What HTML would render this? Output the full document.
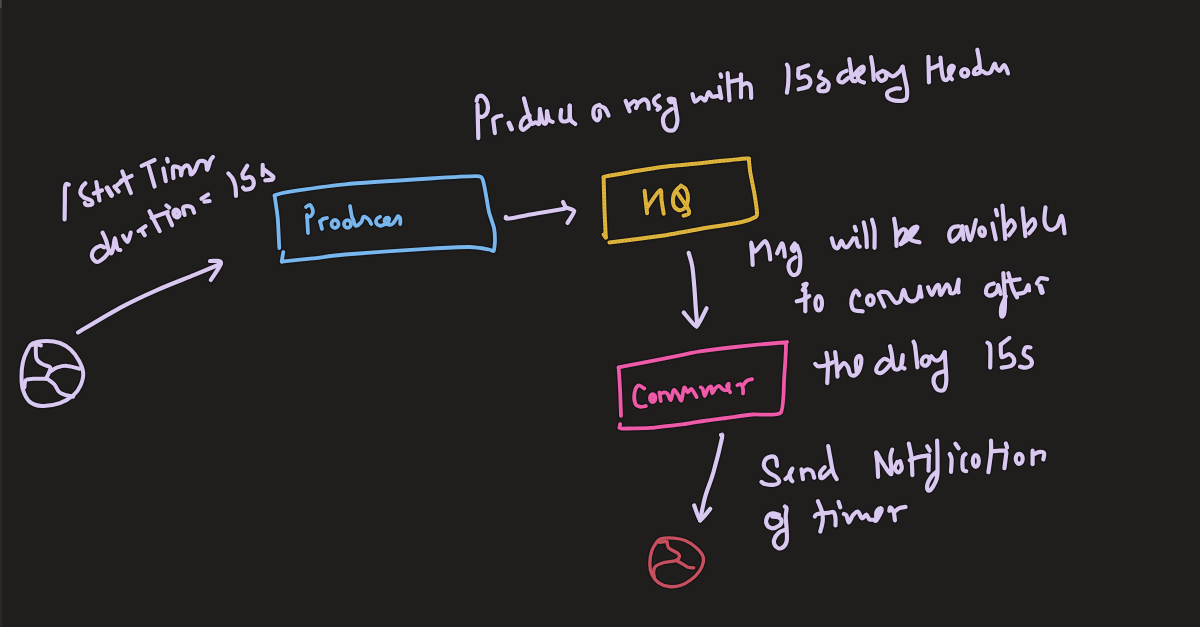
<!DOCTYPE html>
<html><head><meta charset="utf-8"><style>
html,body{margin:0;padding:0;background:#1f1e1c;width:1200px;height:627px;overflow:hidden;font-family:"Liberation Sans",sans-serif;}
svg{position:absolute;left:0;top:0;display:block}
</style></head><body>
<svg width="1200" height="627" viewBox="0 0 1200 627" role="img" aria-label="Start Timer duration = 15s; Producer; Produce a msg with 15s delay header; MQ; Consumer; Msg will be available to consume after the delay 15s; Send Notification of timer">
<title>Delayed timer notification flow: Producer to MQ to Consumer</title>
<rect x="0" y="0" width="1200" height="627" fill="#1f1e1c"/>
<rect x="0" y="0" width="2" height="627" fill="#2a2927"/>
<rect x="0" y="0" width="1.6" height="8" fill="#4e4d4b"/>
<g fill="none" stroke-linecap="round" stroke-linejoin="round" stroke="#100d14" opacity="0.55">
<path d="M32.4 343.6C35.6 341.9 41.6 341.0 46.2 340.9C50.8 340.8 55.8 341.5 59.9 343.0C64.0 344.5 67.6 346.9 70.8 349.8C74.0 352.8 76.9 356.8 79.0 360.7C81.1 364.6 83.0 368.9 83.2 373.0C83.5 377.1 82.1 381.8 80.5 385.5C78.9 389.2 77.0 392.1 73.6 395.0C70.2 397.9 65.1 401.4 59.9 403.2C54.6 405.0 47.1 406.2 42.1 406.0C37.1 405.8 33.0 404.6 29.8 401.9C26.6 399.2 24.3 393.9 22.9 389.6C21.5 385.3 21.5 380.5 21.5 375.9C21.5 371.3 22.0 366.3 22.9 362.2C23.8 358.1 25.4 354.3 27.0 351.2C28.6 348.1 29.2 345.3 32.4 343.6Z" stroke-width="6.6"/>
<path d="M31.5 345.0C32.2 344.8 34.2 343.9 35.8 344.0C37.4 344.1 40.0 345.2 40.9 345.5" stroke-width="6.6"/>
<path d="M35.8 345.8C35.9 347.9 35.4 355.6 36.6 358.7C37.8 361.8 40.7 363.0 43.0 364.4C45.3 365.8 49.2 365.9 50.2 367.3C51.2 368.7 49.5 371.1 48.8 373.0C48.1 374.9 46.4 377.8 45.9 378.8" stroke-width="6.6"/>
<path d="M24.4 387.4C24.6 386.2 24.4 381.6 25.8 380.2C27.2 378.8 29.6 379.0 33.0 378.8C36.4 378.6 43.8 378.8 45.9 378.8" stroke-width="6.6"/>
<path d="M50.2 371.6C51.4 370.9 54.5 368.2 57.4 367.3C60.3 366.4 63.7 365.6 67.4 365.9C71.1 366.1 77.5 368.3 79.5 368.8" stroke-width="6.6"/>
<path d="M47.3 378.8C48.5 379.8 52.6 382.4 54.5 384.5C56.4 386.6 57.1 390.0 58.8 391.7C60.5 393.4 62.1 393.8 64.5 394.6C66.9 395.4 71.8 396.4 73.2 396.7" stroke-width="6.6"/>
<path d="M78.0 332.5C85.0 328.4 106.8 314.9 120.0 307.8C133.2 300.7 145.0 295.3 157.5 289.8C170.0 284.3 184.5 278.9 195.0 274.6C205.5 270.3 216.2 265.8 220.5 264.0" stroke-width="6.8"/>
<path d="M210.0 261.0C211.8 261.3 220.9 259.6 221.0 262.8C221.1 265.9 212.5 277.1 210.8 280.0" stroke-width="6.8"/>
<path d="M68.8 184.6C68.4 184.5 66.9 183.4 66.3 183.9C65.7 184.4 65.2 184.3 65.0 187.8C64.8 191.3 64.9 199.7 64.8 205.0C64.7 210.3 64.6 217.1 64.6 219.5" stroke-width="6.8"/>
<path d="M85.4 183.3C84.9 183.8 83.2 184.9 82.3 186.5C81.4 188.1 80.1 191.1 80.3 192.9C80.5 194.7 81.7 196.0 83.5 197.3C85.3 198.6 89.8 199.3 91.2 200.5C92.6 201.7 92.7 203.7 91.8 204.4C90.9 205.2 87.3 205.2 86.1 205.0C84.9 204.8 85.0 203.3 84.8 203.0" stroke-width="6.8"/>
<path d="M96.3 182.0L99.5 200.5" stroke-width="6.8"/>
<path d="M93.7 193.5L102.0 190.3" stroke-width="6.8"/>
<path d="M107.2 188.0L111.5 195.2" stroke-width="7.8"/>
<path d="M114.4 186.6L118.7 191.6" stroke-width="6.8"/>
<path d="M117.2 185.2L121.5 181.6" stroke-width="6.8"/>
<path d="M122.3 171.5L130.9 193.0" stroke-width="6.8"/>
<path d="M120.8 180.8L131.6 175.8" stroke-width="6.8"/>
<path d="M141.6 165.8L154.6 160.0" stroke-width="6.8"/>
<path d="M148.8 166.5L154.6 186.6" stroke-width="6.8"/>
<path d="M167.1 158.9L167.8 161.5" stroke-width="6.8"/>
<path d="M163.3 168.5L165.8 181.2" stroke-width="6.8"/>
<path d="M173.5 178.1C173.4 176.4 172.5 169.8 172.9 167.9C173.3 166.0 174.7 166.4 176.0 166.6C177.3 166.8 179.7 167.6 180.5 169.1C181.3 170.6 180.8 175.5 181.1 175.5C181.4 175.5 181.4 170.8 182.4 169.1C183.4 167.4 185.6 165.3 186.9 165.3C188.2 165.3 189.5 167.6 190.1 169.1C190.7 170.6 190.0 173.9 190.7 174.2C191.4 174.5 193.2 173.0 194.5 171.0C195.8 169.0 197.1 163.8 198.4 162.1C199.7 160.4 200.9 160.7 202.2 160.8C203.5 160.9 205.2 161.3 206.0 162.8C206.8 164.3 206.6 170.2 207.3 169.8C208.1 169.4 209.6 162.3 210.5 160.2C211.4 158.1 212.6 157.5 213.0 157.0" stroke-width="6.8"/>
<path d="M228.3 173.4C229.0 174.2 231.3 176.3 232.5 178.4C233.7 180.5 234.7 183.2 235.3 186.1C235.9 189.0 235.9 194.3 236.0 195.9" stroke-width="6.8"/>
<path d="M243.1 172.7L247.3 165.7" stroke-width="6.8"/>
<path d="M242.4 174.1C242.6 174.8 242.5 177.9 243.8 178.4C245.1 178.9 248.5 176.5 250.1 177.0C251.7 177.5 253.2 179.4 253.6 181.2C253.9 182.9 253.6 186.1 252.2 187.5C250.8 188.9 246.7 189.6 245.2 189.6C243.7 189.6 243.4 187.8 243.1 187.5" stroke-width="6.8"/>
<path d="M262.7 164.9L262.7 175.2" stroke-width="6.8"/>
<path d="M263.6 169.2C264.6 169.9 272.2 175.5 273.1 176.5C274.0 177.5 273.0 179.1 272.2 179.5C271.4 179.9 266.0 180.3 265.3 180.4" stroke-width="6.8"/>
<path d="M201.5 198.8L208.1 194.4" stroke-width="6.8"/>
<path d="M204.4 201.7L209.6 201.0" stroke-width="6.8"/>
<path d="M104.1 247.3C103.4 247.1 101.7 245.4 99.9 245.9C98.2 246.4 94.9 248.2 93.6 250.1C92.3 252.0 91.6 255.1 92.2 257.1C92.8 259.1 95.1 261.9 97.1 262.0C99.1 262.1 102.1 259.6 104.1 257.8C106.1 256.1 108.3 252.6 109.1 251.5" stroke-width="6.8"/>
<path d="M102.6 232.6C103.2 234.0 105.3 238.2 106.2 240.8C107.1 243.4 107.6 246.5 108.2 248.4C108.8 250.3 109.2 251.8 109.8 252.5C110.4 253.2 111.2 253.9 111.8 252.8C112.4 251.7 113.1 248.4 113.6 246.0C114.1 243.6 114.4 238.2 114.9 238.2C115.4 238.2 116.0 244.1 116.5 246.0C117.0 247.9 117.4 248.8 118.0 249.5C118.6 250.2 119.9 249.9 120.3 250.0" stroke-width="6.8"/>
<path d="M123.0 235.7C123.8 236.7 126.3 242.3 127.6 241.8C128.9 241.3 130.2 234.1 130.7 232.6" stroke-width="6.8"/>
<path d="M138.5 231.1L145.5 226.2" stroke-width="6.8"/>
<path d="M141.3 229.7L144.8 235.3" stroke-width="6.8"/>
<path d="M149.4 211.3L159.7 231.1" stroke-width="6.8"/>
<path d="M151.6 217.9L167.7 212.0" stroke-width="6.8"/>
<path d="M166.3 205.4L169.2 207.6" stroke-width="6.8"/>
<path d="M167.0 213.5L172.1 225.2" stroke-width="6.8"/>
<path d="M184.6 215.0C184.4 213.8 182.7 209.1 183.2 207.6C183.7 206.1 186.1 206.1 187.6 206.1C189.1 206.1 190.9 206.5 192.0 207.6C193.1 208.7 193.8 211.8 194.2 212.7" stroke-width="6.8"/>
<path d="M274.6 195.5C275.7 195.2 278.7 193.4 285.7 192.3C292.7 191.2 330.6 185.7 345.0 184.3C359.4 182.9 416.9 179.3 430.0 178.5C443.1 177.7 470.9 176.1 476.2 176.2C481.5 176.3 481.6 177.4 482.6 179.3C483.6 181.2 485.4 191.7 486.0 195.0C486.6 198.3 488.2 208.7 489.0 212.0C489.8 215.3 493.4 225.2 494.0 228.0C494.6 230.8 495.0 237.7 495.0 240.0C495.0 242.3 494.3 250.1 493.7 251.0C493.1 251.9 491.4 249.9 489.0 249.5C486.6 249.1 475.7 247.1 469.8 247.0C463.9 246.9 442.5 247.9 430.0 248.7C417.5 249.4 356.7 253.5 345.0 254.5C333.3 255.5 319.1 257.7 312.8 258.4C306.5 259.1 284.8 261.3 281.7 261.6" stroke-width="6.4"/>
<path d="M274.6 195.5C274.9 197.7 277.2 212.6 277.7 217.8C278.2 223.1 279.1 245.0 279.3 248.0" stroke-width="6.4"/>
<path d="M283.3 252.0L281.7 261.6" stroke-width="6.4"/>
<path d="M307.0 215.0L308.0 233.0" stroke-width="6.4"/>
<path d="M306.0 207.0C306.7 206.7 308.8 204.3 310.0 205.0C311.2 205.7 312.8 209.2 313.0 211.0C313.2 212.8 312.0 215.0 311.0 216.0C310.0 217.0 307.7 216.8 307.0 217.0" stroke-width="6.4"/>
<path d="M320.0 221.0L322.0 229.0" stroke-width="6.4"/>
<path d="M320.0 222.0C320.5 221.5 321.8 219.7 323.0 219.0C324.2 218.3 326.3 218.2 327.0 218.0" stroke-width="6.4"/>
<path d="M350.0 206.0C350.3 207.8 351.4 214.8 352.0 217.0C352.6 219.2 352.7 218.1 353.3 219.5C353.9 220.9 354.3 225.2 355.6 225.7C356.9 226.2 359.9 223.8 361.2 222.3C362.5 220.8 362.5 217.4 363.4 216.7C364.3 216.0 365.7 217.2 366.7 217.9C367.7 218.6 368.8 219.6 369.5 220.6C370.2 221.6 370.9 223.4 371.2 224.0" stroke-width="6.4"/>
<path d="M380.1 216.7C379.6 217.1 377.5 218.0 376.8 219.0C376.1 220.0 375.7 221.8 376.2 222.9C376.7 224.0 378.3 225.4 379.6 225.7C380.9 226.0 382.6 225.2 384.0 224.6C385.4 224.0 387.1 223.3 388.0 222.3C388.9 221.3 389.4 219.1 389.1 218.4C388.8 217.7 387.1 217.4 386.3 217.9C385.6 218.4 384.3 220.1 384.6 221.2C384.9 222.3 386.7 224.1 388.0 224.6C389.3 225.1 391.1 224.8 392.4 224.0C393.7 223.2 394.9 220.8 395.8 219.5C396.7 218.2 397.3 216.4 398.0 216.2C398.7 216.0 399.8 217.1 400.2 218.4C400.6 219.7 400.2 223.1 400.2 224.0" stroke-width="6.4"/>
<path d="M506.0 217.0C506.5 217.2 503.8 219.1 509.0 218.5C514.2 217.9 528.2 214.9 537.5 213.3C546.8 211.7 560.0 209.6 564.5 208.8" stroke-width="6.8"/>
<path d="M563.0 202.0C563.3 202.5 564.9 206.4 566.0 207.3C567.1 208.2 574.1 209.4 574.3 211.0C574.4 212.6 568.2 221.8 567.5 223.0" stroke-width="6.8"/>
<path d="M603.6 177.2C604.1 177.1 603.1 176.8 608.7 175.8C614.3 174.8 650.9 168.4 660.0 167.2C669.1 165.9 691.4 164.2 700.0 163.3C708.6 162.4 741.2 158.9 746.1 158.6C751.0 158.3 748.4 158.7 748.8 160.0C749.2 161.3 749.7 168.8 750.2 172.0C750.7 175.2 753.5 188.4 754.2 192.5C754.9 196.6 756.9 210.4 757.0 212.8C757.1 215.2 757.2 216.0 755.6 216.9C754.0 217.8 746.3 221.1 740.7 222.3C735.1 223.5 708.1 227.6 700.0 229.0C691.9 230.4 669.1 234.7 660.0 236.0C650.9 237.3 614.5 241.8 609.4 242.5" stroke-width="6.6"/>
<path d="M603.6 177.2C603.7 180.5 604.3 204.0 604.5 210.0C604.7 216.0 605.7 234.8 605.8 237.5" stroke-width="6.6"/>
<path d="M603.6 234.6L605.8 237.5" stroke-width="6.6"/>
<path d="M644.6 190.8L647.1 213.2" stroke-width="6.6"/>
<path d="M647.8 206.8C649.8 204.0 657.6 191.3 659.9 190.2C662.2 189.1 660.9 196.1 661.5 200.0C662.1 203.9 663.3 211.5 663.7 213.8" stroke-width="6.6"/>
<path d="M681.0 185.7C679.9 186.9 675.8 189.7 674.5 192.8C673.2 195.9 672.6 201.3 673.3 204.2C673.9 207.1 676.5 209.4 678.4 210.0C680.3 210.6 683.1 209.8 684.7 208.0C686.3 206.2 687.8 202.1 688.0 199.0C688.2 195.9 687.2 191.8 686.0 189.6C684.8 187.4 681.8 186.3 681.0 185.7" stroke-width="6.6"/>
<path d="M676.5 191.5C678.4 194.4 686.0 205.0 688.0 208.7C690.0 212.4 689.4 212.6 688.6 213.8C687.9 215.0 684.4 215.4 683.5 215.7" stroke-width="6.6"/>
<path d="M477.5 104.9L478.3 138.1" stroke-width="6.8"/>
<path d="M476.6 100.8C476.9 100.1 477.2 97.3 478.3 96.6C479.4 95.9 481.8 95.5 483.3 96.6C484.8 97.7 486.7 100.8 487.4 103.3C488.1 105.8 488.1 109.4 487.4 111.6C486.7 113.8 484.7 115.7 483.3 116.5C481.9 117.3 479.8 116.5 479.1 116.5" stroke-width="6.8"/>
<path d="M493.2 119.9L494.9 133.1" stroke-width="6.8"/>
<path d="M493.5 119.0C494.1 118.6 496.1 117.0 497.4 116.5C498.7 116.0 500.8 115.8 501.5 115.7" stroke-width="6.8"/>
<path d="M509.0 123.2L511.5 129.0" stroke-width="7.6"/>
<path d="M529.7 115.7C528.7 116.1 525.4 116.5 523.9 118.2C522.4 119.9 520.7 123.8 520.6 125.7C520.5 127.6 521.6 130.0 523.1 129.8C524.6 129.7 528.6 125.6 529.7 124.8" stroke-width="6.8"/>
<path d="M523.9 98.3C524.5 100.4 526.0 106.5 527.2 110.7C528.5 114.9 530.0 121.3 531.4 123.2C532.8 125.1 534.2 122.3 535.5 122.3C536.8 122.3 538.5 125.5 539.2 123.3C539.9 121.1 539.8 111.5 539.9 109.2" stroke-width="6.8"/>
<path d="M539.9 109.2C540.4 111.3 541.6 119.7 542.7 121.9C543.8 124.1 545.6 124.4 546.3 122.6C547.0 120.8 546.9 113.2 547.0 111.3" stroke-width="6.8"/>
<path d="M547.0 111.3C547.4 112.7 548.1 118.0 549.1 119.8C550.1 121.6 552.1 121.6 552.7 121.9" stroke-width="6.8"/>
<path d="M561.2 109.9C561.1 111.2 560.3 115.8 560.5 117.7C560.7 119.6 561.3 120.7 562.6 121.2C563.9 121.7 567.0 121.3 568.2 120.5C569.4 119.7 569.5 118.7 569.7 116.2C570.0 113.7 569.7 107.4 569.7 105.6" stroke-width="6.8"/>
<path d="M569.7 105.6C569.8 107.8 569.5 116.0 570.4 119.1C571.3 122.2 574.5 123.2 575.3 124.0" stroke-width="6.8"/>
<path d="M599.4 104.9C598.6 105.4 595.3 105.8 594.4 107.7C593.5 109.6 593.2 114.1 593.7 116.2C594.2 118.3 596.2 120.5 597.3 120.5C598.4 120.5 599.8 117.9 600.1 116.2C600.5 114.5 599.5 111.5 599.4 110.6" stroke-width="6.8"/>
<path d="M600.8 106.3C601.5 106.7 603.8 107.0 605.1 108.5C606.4 110.0 608.0 114.3 608.6 115.5" stroke-width="6.8"/>
<path d="M625.6 101.0L629.6 111.3" stroke-width="6.8"/>
<path d="M629.6 104.9C630.4 104.2 633.1 101.1 634.4 101.0C635.7 100.9 637.2 102.9 637.5 104.1C637.8 105.3 636.2 107.4 636.0 108.1" stroke-width="6.8"/>
<path d="M639.1 102.5C639.9 102.0 642.4 99.4 643.9 99.4C645.4 99.4 647.1 100.9 647.9 102.5C648.7 104.1 648.6 107.8 648.7 108.9" stroke-width="6.8"/>
<path d="M659.1 95.4C658.3 96.1 655.0 98.0 654.3 99.4C653.6 100.9 654.2 102.8 655.1 104.1C656.0 105.4 659.5 106.4 659.9 107.3C660.3 108.2 657.9 109.3 657.5 109.7" stroke-width="6.8"/>
<path d="M671.8 98.6C671.3 98.7 668.7 98.8 668.6 99.4C668.5 100.1 670.1 102.5 671.0 102.5C671.9 102.5 673.7 99.9 674.2 99.4" stroke-width="6.8"/>
<path d="M674.2 99.4C674.5 101.0 675.3 105.3 675.8 108.9C676.3 112.5 677.7 117.4 677.4 120.9C677.1 124.4 675.9 128.2 674.2 129.7C672.5 131.2 668.9 130.9 667.0 129.7C665.1 128.5 663.5 125.0 663.1 122.5C662.7 120.0 663.2 116.8 664.7 114.5C666.2 112.2 670.6 109.8 671.8 108.9" stroke-width="6.8"/>
<path d="M692.5 94.1C692.9 95.4 693.6 101.2 695.0 101.7C696.4 102.2 699.1 97.5 700.8 97.3C702.5 97.1 703.9 101.3 705.2 100.5C706.5 99.7 707.2 92.9 708.4 92.2C709.6 91.5 710.7 96.0 712.3 96.6C713.9 97.2 716.5 95.8 718.0 96.0C719.5 96.2 720.7 97.6 721.2 97.9" stroke-width="6.8"/>
<path d="M719.3 87.1L721.2 97.9" stroke-width="6.8"/>
<path d="M720.5 74.3L721.2 76.8" stroke-width="6.8"/>
<path d="M727.6 73.0L729.5 100.5" stroke-width="6.8"/>
<path d="M728.8 82.0L741.0 79.4" stroke-width="6.8"/>
<path d="M741.0 74.3L741.0 97.3" stroke-width="6.8"/>
<path d="M742.2 85.1C743.0 84.8 745.3 83.0 746.7 83.2C748.1 83.4 749.8 84.0 750.5 86.4C751.2 88.9 751.1 96.0 751.2 97.9" stroke-width="6.8"/>
<path d="M786.9 64.6C787.1 65.3 788.1 65.7 788.3 68.7C788.5 71.7 788.5 78.4 788.3 82.4C788.1 86.4 787.1 91.0 786.9 92.7" stroke-width="6.8"/>
<path d="M798.6 68.7L808.2 65.3" stroke-width="6.8"/>
<path d="M798.6 68.7C798.6 70.2 797.5 76.3 798.6 77.6C799.7 78.8 803.5 75.7 805.4 76.2C807.3 76.7 809.7 78.7 810.2 80.4C810.7 82.1 810.1 85.0 808.2 86.5C806.3 88.0 800.2 88.8 798.6 89.3" stroke-width="6.8"/>
<path d="M821.2 71.4C820.9 72.3 818.5 75.5 819.1 76.9C819.7 78.3 823.0 78.6 824.6 79.7C826.2 80.8 828.4 82.0 828.7 83.8C829.1 85.6 828.3 89.5 826.7 90.6C825.1 91.7 820.4 91.3 819.1 90.6C817.8 89.9 818.4 87.6 819.1 86.5C819.8 85.4 822.5 84.2 823.2 83.8" stroke-width="6.8"/>
<path d="M846.5 70.8C845.6 71.2 842.5 72.0 841.1 73.5C839.7 75.0 838.1 78.2 838.3 79.7C838.5 81.2 840.7 82.8 842.4 82.4C844.1 82.1 847.6 78.4 848.6 77.6" stroke-width="6.8"/>
<path d="M849.3 59.1C849.5 60.7 850.2 65.3 850.7 68.7C851.2 72.1 851.2 77.7 852.0 79.7C852.8 81.8 854.9 80.8 855.5 81.0" stroke-width="6.8"/>
<path d="M853.5 75.4C854.4 74.4 857.2 70.8 858.8 69.3C860.4 67.8 862.5 66.4 863.2 66.7C863.9 67.0 864.1 69.4 863.2 71.0C862.3 72.6 858.5 74.7 857.9 76.3C857.3 77.9 858.6 79.7 859.6 80.7C860.6 81.7 863.3 82.2 864.0 82.5" stroke-width="6.8"/>
<path d="M871.1 57.0C871.4 58.8 872.4 63.7 872.8 67.5C873.2 71.3 873.6 77.8 873.7 79.8" stroke-width="6.8"/>
<path d="M882.5 71.0C881.6 71.6 877.5 73.0 877.2 74.6C876.9 76.2 879.2 80.1 880.7 80.7C882.2 81.3 885.3 79.5 886.0 78.0C886.7 76.5 885.7 73.1 885.1 71.9C884.5 70.7 882.9 71.2 882.5 71.0" stroke-width="6.8"/>
<path d="M886.8 72.8C887.8 73.4 891.0 76.4 893.0 76.3C895.0 76.2 897.5 73.5 899.1 71.9C900.7 70.3 902.0 67.6 902.6 66.7" stroke-width="6.8"/>
<path d="M902.6 66.7C902.9 68.3 903.7 72.5 904.4 76.3C905.1 80.1 906.7 85.7 907.0 89.5C907.3 93.3 907.6 97.2 906.1 99.1C904.6 101.0 901.1 101.1 898.2 100.9C895.3 100.8 890.4 99.7 888.6 98.2C886.9 96.7 886.5 93.7 887.7 92.1C888.9 90.5 893.6 89.2 895.6 88.6C897.6 88.0 899.3 88.6 900.0 88.6" stroke-width="6.8"/>
<path d="M928.4 56.8L929.0 82.4" stroke-width="6.8"/>
<path d="M929.7 69.0C930.6 68.7 933.3 67.7 934.8 67.0C936.3 66.3 938.0 65.4 938.6 65.1" stroke-width="6.8"/>
<path d="M940.5 57.5C940.7 59.8 941.3 67.9 941.8 71.5C942.3 75.1 942.8 77.9 943.7 79.2C944.7 80.5 946.1 80.5 947.5 79.2C948.9 77.9 950.9 73.5 952.0 71.5C953.1 69.5 954.0 68.0 953.9 67.0C953.8 66.0 952.1 65.3 951.3 65.8C950.4 66.3 949.0 68.4 948.8 70.2C948.6 72.0 949.5 75.1 950.0 76.6C950.5 78.1 951.7 78.8 952.0 79.2" stroke-width="6.8"/>
<path d="M977.3 49.7C977.6 51.4 978.8 56.9 979.2 60.0C979.6 63.1 979.8 66.9 979.9 68.3" stroke-width="6.8"/>
<path d="M978.6 67.0C978.0 67.4 975.5 68.3 974.8 69.5C974.0 70.7 973.5 73.3 974.1 74.0C974.7 74.7 977.3 73.9 978.6 73.4C979.9 72.9 980.5 70.8 981.8 70.8C983.1 70.8 984.7 73.2 986.2 73.4C987.7 73.6 989.3 73.7 990.7 72.1C992.1 70.5 993.5 64.4 994.5 63.8C995.5 63.2 995.6 67.1 996.5 68.3C997.4 69.5 998.4 71.3 999.7 70.8C1001.0 70.3 1002.9 65.3 1004.1 65.1C1005.3 64.9 1006.1 68.1 1006.7 69.5C1007.4 70.9 1007.8 72.8 1008.0 73.4" stroke-width="6.8"/>
<path d="M688.7 252.9C689.3 255.2 691.3 260.6 692.3 266.5C693.2 272.4 693.8 280.8 694.4 288.0C695.0 295.2 695.4 303.4 695.9 309.6C696.4 315.8 697.1 322.8 697.3 325.4" stroke-width="6.8"/>
<path d="M683.7 312.5C684.6 313.5 695.1 327.1 696.6 326.8C698.1 326.5 705.9 309.4 706.6 308.2" stroke-width="6.8"/>
<path d="M618.6 367.3C620.3 367.0 628.7 365.5 635.3 364.2C641.9 362.9 678.5 355.7 685.0 354.4C691.5 353.1 695.0 352.0 700.0 351.3C705.0 350.6 726.6 347.9 735.0 347.0C743.4 346.1 779.1 342.8 784.2 342.5C789.3 342.2 786.0 340.8 786.0 344.3C786.0 347.8 784.7 370.8 784.2 377.6C783.7 384.4 783.9 409.0 780.7 412.7C777.5 416.4 758.0 414.0 752.6 414.5C747.2 415.0 731.6 417.3 726.3 418.0C721.0 418.7 704.1 420.9 700.0 421.5C695.9 422.1 690.0 423.4 685.0 424.0C680.0 424.6 656.8 427.4 650.5 427.9C644.2 428.4 624.6 428.5 621.7 428.6" stroke-width="6.4"/>
<path d="M618.6 367.3C618.8 369.9 620.0 388.1 620.2 393.0C620.4 397.9 620.9 413.5 621.0 415.8" stroke-width="6.4"/>
<path d="M620.2 424.0L619.4 427.9" stroke-width="6.4"/>
<path d="M644.4 388.5C643.4 388.0 639.9 384.8 638.3 385.5C636.6 386.2 635.0 390.0 634.5 393.0C634.0 396.0 634.4 401.3 635.3 403.6C636.2 405.9 638.0 406.3 639.8 406.7C641.6 407.1 644.9 406.1 645.9 406.0" stroke-width="6.4"/>
<path d="M659.4 392.4L660.8 401.0" stroke-width="6.4"/>
<path d="M660.5 394.0C661.1 393.7 662.9 392.4 664.1 392.4C665.3 392.4 666.4 392.5 667.5 393.8C668.6 395.1 669.8 400.6 670.8 400.0C671.8 399.4 672.5 390.9 673.7 390.0C674.9 389.1 676.7 392.9 678.0 394.7C679.3 396.4 680.4 401.7 681.4 400.5C682.4 399.3 683.2 389.0 684.2 387.6C685.2 386.2 686.4 392.2 687.6 392.4C688.8 392.6 689.9 388.2 691.4 389.0C692.9 389.8 695.8 395.8 696.7 397.1" stroke-width="6.4"/>
<path d="M700.6 387.3C701.0 387.6 702.0 387.4 702.7 388.8C703.4 390.2 703.9 396.0 704.7 396.0C705.6 396.0 706.7 390.3 707.8 388.8C708.9 387.3 710.5 386.0 711.3 386.8C712.0 387.6 711.6 393.1 712.3 393.4C713.0 393.6 714.3 389.6 715.4 388.3C716.5 387.0 717.9 385.7 719.0 385.8C720.1 385.9 721.0 388.0 722.0 388.8C723.0 389.6 724.1 390.4 725.1 390.4C726.1 390.4 727.6 389.9 728.2 388.8C728.8 387.7 728.9 384.2 728.7 383.7C728.5 383.2 727.1 385.1 727.0 386.0C726.9 386.9 727.7 387.7 728.2 388.8C728.7 389.9 729.9 391.8 730.2 392.4" stroke-width="6.4"/>
<path d="M737.3 385.3C737.9 385.1 739.9 383.6 740.9 384.2C741.9 384.8 742.6 387.3 743.0 388.8C743.4 390.3 743.0 392.6 743.0 393.4" stroke-width="6.4"/>
<path d="M743.5 384.8C744.1 384.1 745.6 381.6 747.0 380.7C748.4 379.8 751.2 379.4 752.1 379.1" stroke-width="6.4"/>
<path d="M752.7 264.9C752.6 262.6 752.2 254.8 751.9 251.1C751.6 247.4 750.9 242.8 751.1 242.7C751.4 242.6 752.6 249.0 753.4 250.4C754.2 251.8 754.6 251.9 755.7 251.1C756.9 250.3 758.8 247.5 760.3 245.8C761.8 244.2 763.6 241.2 764.9 241.2C766.2 241.2 767.2 243.9 768.0 245.8C768.8 247.7 769.1 250.4 769.5 252.7C769.9 255.0 770.1 258.4 770.2 259.5" stroke-width="6.8"/>
<path d="M777.1 253.4C777.9 251.8 780.6 244.1 781.7 243.5C782.9 242.9 783.5 247.4 784.0 249.6C784.5 251.8 784.7 255.3 784.8 256.5" stroke-width="6.8"/>
<path d="M794.7 243.5C794.2 244.3 791.8 246.8 791.7 248.1C791.6 249.4 793.1 251.5 794.0 251.1C794.9 250.7 796.5 246.7 797.0 245.8" stroke-width="6.8"/>
<path d="M797.0 245.8C797.5 247.6 799.8 252.2 800.1 256.5C800.4 260.8 799.9 268.8 798.6 271.8C797.3 274.9 794.1 275.4 792.4 274.8C790.7 274.2 789.0 270.3 788.6 268.0C788.2 265.7 789.0 262.9 790.1 261.1C791.2 259.3 794.6 257.9 795.5 257.2" stroke-width="6.8"/>
<path d="M831.7 238.2C832.1 239.6 833.2 244.9 834.3 246.5C835.4 248.1 836.9 248.8 838.1 247.8C839.3 246.9 840.3 241.1 841.3 240.8C842.3 240.5 842.9 244.8 843.9 245.9C844.9 247.0 845.8 247.9 847.1 247.2C848.4 246.4 850.5 242.9 851.5 241.4C852.5 239.9 853.1 238.7 853.4 238.2" stroke-width="6.8"/>
<path d="M856.0 238.2C856.3 239.5 857.3 244.5 857.9 245.9C858.5 247.3 859.5 246.4 859.8 246.5" stroke-width="6.8"/>
<path d="M854.7 226.8L856.0 230.6" stroke-width="6.8"/>
<path d="M863.7 222.3C864.1 224.4 865.7 230.8 866.2 235.0C866.7 239.2 866.7 245.2 866.8 247.2" stroke-width="6.8"/>
<path d="M872.0 219.7C872.4 221.4 874.1 225.3 874.5 230.0C874.9 234.7 874.5 244.8 874.5 247.8" stroke-width="6.8"/>
<path d="M894.1 218.7C894.4 220.6 895.5 225.6 895.9 230.2C896.3 234.8 896.4 243.4 896.5 246.0" stroke-width="6.8"/>
<path d="M897.1 236.2C897.8 235.2 900.1 231.3 901.4 230.2C902.7 229.1 904.2 229.1 905.0 229.6C905.8 230.1 906.4 231.6 906.2 233.2C906.0 234.8 904.7 237.5 903.8 239.3C902.9 241.1 901.3 243.3 900.8 244.1" stroke-width="6.8"/>
<path d="M900.8 244.1C901.7 243.5 904.3 242.0 906.2 240.5C908.1 239.0 910.5 237.0 912.3 235.0C914.1 233.0 916.4 229.8 917.1 228.4C917.8 227.0 917.3 226.5 916.5 226.5C915.7 226.5 913.5 227.2 912.3 228.4C911.1 229.6 909.4 231.9 909.2 233.8C909.0 235.7 909.3 238.5 911.0 239.9C912.7 241.3 918.1 241.9 919.5 242.3" stroke-width="6.8"/>
<path d="M958.8 226.3C957.8 226.5 954.2 226.2 952.6 227.6C951.0 229.0 949.4 232.2 949.2 234.5C949.0 236.8 950.0 240.7 951.2 241.4C952.5 242.1 955.1 240.1 956.7 238.6C958.3 237.1 959.9 234.4 960.8 232.4C961.7 230.4 962.0 227.3 962.2 226.3" stroke-width="6.8"/>
<path d="M962.2 226.3L963.6 239.3" stroke-width="6.8"/>
<path d="M966.3 227.0C967.0 229.2 968.9 240.7 970.4 240.0C971.9 239.3 974.3 226.1 975.2 222.8C976.1 219.5 975.8 220.6 975.9 220.1" stroke-width="6.8"/>
<path d="M995.8 209.8L997.2 215.3" stroke-width="6.8"/>
<path d="M992.4 223.5L995.8 239.3" stroke-width="6.8"/>
<path d="M1002.4 205.5L1005.3 239.0" stroke-width="6.8"/>
<path d="M1006.3 226.6C1007.1 225.5 1009.6 220.0 1011.0 220.0C1012.4 220.0 1015.2 224.1 1014.9 226.6C1014.6 229.1 1010.0 233.8 1009.0 235.2" stroke-width="6.8"/>
<path d="M1022.5 208.4L1025.4 236.1" stroke-width="6.8"/>
<path d="M1026.4 226.6C1027.5 225.3 1031.6 219.2 1033.0 219.0C1034.4 218.8 1035.6 223.2 1035.0 225.6C1034.4 228.0 1030.2 232.0 1029.2 233.3" stroke-width="6.8"/>
<path d="M1045.5 207.4C1045.3 209.8 1043.9 218.1 1044.5 221.8C1045.1 225.5 1047.2 228.7 1049.3 229.5C1051.4 230.3 1054.9 228.8 1057.0 226.6C1059.1 224.3 1060.5 214.9 1061.8 216.0C1063.1 217.1 1064.1 230.4 1064.6 233.3" stroke-width="6.8"/>
<path d="M803.3 284.7C803.9 284.6 806.8 283.1 806.7 284.0C806.6 284.9 803.4 289.0 802.7 290.0" stroke-width="6.8"/>
<path d="M805.3 290.0L805.3 311.3" stroke-width="6.8"/>
<path d="M796.7 301.3C797.6 301.1 799.9 300.9 802.0 300.0C804.1 299.1 808.1 296.7 809.3 296.0" stroke-width="6.8"/>
<path d="M859.3 295.3C858.8 294.5 857.1 290.7 856.0 290.7C854.9 290.7 853.5 293.2 852.7 295.3C851.9 297.4 851.1 300.9 851.3 303.3C851.5 305.8 852.1 308.7 854.0 310.0C855.9 311.3 861.2 311.1 862.7 311.3" stroke-width="6.8"/>
<path d="M878.6 293.8L884.3 306.5" stroke-width="6.8"/>
<path d="M881.1 291.9C882.2 292.0 885.7 291.4 887.5 292.5C889.3 293.6 890.6 296.6 892.0 298.3C893.4 300.0 894.4 302.3 895.8 302.7C897.2 303.1 899.0 302.9 900.3 300.8C901.6 298.7 902.4 290.4 903.5 290.0C904.6 289.6 905.3 296.4 906.7 298.3C908.1 300.2 910.0 301.4 911.8 301.4C913.6 301.4 916.1 300.7 917.5 298.3C918.9 295.9 919.6 288.7 920.0 286.8" stroke-width="6.8"/>
<path d="M919.7 286.6L921.6 296.8" stroke-width="6.8"/>
<path d="M928.0 287.2C928.6 288.5 930.5 294.9 931.8 294.9C933.1 294.9 934.4 288.8 935.6 287.2C936.8 285.6 937.9 284.0 938.8 285.3C939.6 286.6 939.4 295.0 940.7 294.9C942.0 294.8 945.0 285.8 946.5 284.7C948.0 283.6 949.1 287.1 949.7 288.5C950.3 289.9 949.3 292.5 950.3 293.0C951.2 293.5 954.0 293.9 955.4 291.7C956.8 289.5 958.2 280.1 958.6 279.6C959.0 279.1 958.0 286.4 958.0 288.5C958.0 290.6 958.5 291.7 958.6 292.3" stroke-width="6.8"/>
<path d="M993.8 283.5C992.8 283.9 989.1 284.5 987.8 286.1C986.5 287.7 985.6 291.4 986.0 293.0C986.4 294.6 988.6 295.8 990.3 295.6C992.0 295.5 995.1 293.8 996.4 292.1C997.7 290.4 997.8 286.4 998.1 285.2" stroke-width="6.8"/>
<path d="M998.1 285.2L1000.7 293.8" stroke-width="6.8"/>
<path d="M1003.3 273.2C1003.4 275.2 1003.8 280.6 1004.1 285.2C1004.4 289.8 1005.0 295.9 1005.0 300.7C1005.0 305.4 1004.7 311.1 1004.1 313.7C1003.5 316.3 1001.9 317.3 1001.5 316.2C1001.1 315.1 1000.8 310.1 1001.5 306.8C1002.2 303.5 1005.1 298.1 1005.8 296.4" stroke-width="6.8"/>
<path d="M1008.4 273.2C1009.1 275.8 1011.3 284.7 1012.7 288.7C1014.1 292.7 1016.3 295.9 1017.0 297.3" stroke-width="6.8"/>
<path d="M1004.1 281.8L1019.6 279.2" stroke-width="6.8"/>
<path d="M1017.9 293.8C1019.0 293.5 1023.1 293.5 1024.8 292.1C1026.5 290.7 1027.5 285.5 1028.2 285.2C1028.9 284.9 1028.9 289.5 1029.1 290.4" stroke-width="6.8"/>
<path d="M1036.8 283.5C1037.4 282.6 1038.6 279.0 1040.3 278.3C1042.0 277.6 1046.0 279.1 1047.2 279.2" stroke-width="6.8"/>
<path d="M1040.3 286.5L1042.0 292.1" stroke-width="8.1"/>
<path d="M826.4 352.8C826.7 354.6 827.9 358.8 828.0 363.9C828.1 368.9 827.3 379.9 827.2 383.1" stroke-width="6.8"/>
<path d="M815.2 363.9C815.7 364.3 816.3 366.2 818.4 366.3C820.5 366.4 825.6 365.4 828.0 364.7C830.4 364.0 831.9 362.7 832.7 362.3" stroke-width="6.8"/>
<path d="M835.1 352.0C835.4 354.2 836.3 361.4 836.7 365.5C837.1 369.6 837.4 374.8 837.5 376.7" stroke-width="6.8"/>
<path d="M838.3 369.5C839.2 368.4 842.3 363.5 843.9 363.1C845.5 362.7 846.8 365.2 847.9 367.1C849.0 369.0 849.1 373.0 850.3 374.3C851.5 375.6 853.5 376.0 855.1 375.1C856.7 374.2 858.8 371.4 859.8 368.7C860.8 366.0 861.5 361.2 861.4 359.1C861.3 357.0 859.9 355.7 859.0 356.0C858.1 356.3 856.3 358.1 855.9 360.7C855.5 363.3 856.6 370.0 856.7 371.9" stroke-width="6.8"/>
<path d="M888.0 360.2C887.3 360.0 885.3 358.1 883.6 359.0C881.9 359.9 879.0 363.2 877.8 365.3C876.6 367.4 875.9 370.5 876.6 371.7C877.4 372.9 880.1 373.6 882.3 372.4C884.5 371.2 888.4 366.7 890.0 364.7C891.6 362.7 891.6 360.9 891.9 360.2" stroke-width="6.8"/>
<path d="M890.0 346.2C890.3 347.7 891.4 351.9 891.9 355.1C892.4 358.3 892.6 363.0 893.1 365.3C893.6 367.6 893.9 368.7 895.0 369.2C896.1 369.7 898.3 369.6 899.5 368.5C900.7 367.4 901.6 365.0 902.1 362.8C902.6 360.6 902.8 354.6 902.7 355.1C902.6 355.6 901.1 363.8 901.4 366.0C901.7 368.2 904.1 368.1 904.6 368.5" stroke-width="6.8"/>
<path d="M913.5 341.7C913.7 342.2 914.4 342.7 914.8 344.9C915.2 347.1 915.7 351.4 916.1 355.1C916.5 358.8 917.2 365.3 917.4 367.3" stroke-width="6.8"/>
<path d="M931.2 356.2C931.9 356.9 933.7 359.7 935.1 360.2C936.5 360.7 938.3 360.7 939.9 359.4C941.5 358.1 943.9 353.4 944.7 352.2" stroke-width="6.8"/>
<path d="M944.7 352.2C944.8 354.3 945.2 360.2 945.5 365.0C945.8 369.8 946.6 376.8 946.3 380.9C946.0 385.0 945.4 388.2 943.9 389.7C942.4 391.2 939.2 391.0 937.5 389.7C935.8 388.4 933.8 384.2 933.5 381.7C933.2 379.2 934.2 376.2 935.9 374.5C937.6 372.8 942.6 371.8 943.9 371.3" stroke-width="6.8"/>
<path d="M987.4 342.7C987.9 343.3 989.7 342.4 990.2 346.5C990.7 350.6 990.2 364.1 990.2 367.6" stroke-width="6.8"/>
<path d="M1000.8 344.6L1009.4 337.9" stroke-width="6.8"/>
<path d="M1000.8 344.6C1000.9 346.7 1000.3 355.4 1001.7 357.0C1003.1 358.6 1007.3 353.7 1009.4 354.2C1011.5 354.7 1013.9 358.1 1014.2 360.0C1014.5 361.9 1013.4 364.4 1011.3 365.7C1009.2 367.0 1003.3 367.3 1001.7 367.6" stroke-width="6.8"/>
<path d="M1030.5 347.5C1029.7 347.5 1026.8 346.4 1025.7 347.5C1024.6 348.6 1023.0 352.3 1023.8 354.2C1024.6 356.1 1029.2 357.2 1030.5 359.0C1031.8 360.8 1032.2 363.3 1031.4 364.7C1030.6 366.1 1027.6 367.3 1025.7 367.6C1023.8 367.9 1021.0 366.8 1020.0 366.6" stroke-width="6.8"/>
<path d="M721.0 435.0C721.1 435.6 723.1 432.2 721.9 438.4C720.6 444.6 716.3 462.2 713.5 472.0C710.7 481.8 707.3 488.9 705.1 497.0C702.9 505.1 700.9 516.6 700.1 520.5" stroke-width="6.8"/>
<path d="M694.2 505.4C694.6 506.4 699.0 520.3 700.1 520.5C701.2 520.7 709.5 509.6 710.2 508.8" stroke-width="6.8"/>
<path d="M777.0 465.8C776.8 464.5 776.7 459.5 775.6 458.0C774.5 456.5 772.4 456.2 770.6 456.6C768.8 457.0 766.0 458.4 765.0 460.2C764.0 462.0 763.6 465.1 764.3 467.2C765.0 469.3 767.2 471.2 769.2 472.8C771.2 474.4 774.6 475.5 776.3 477.0C777.9 478.5 779.5 480.6 779.1 481.9C778.8 483.2 776.6 484.3 774.2 484.7C771.9 485.1 767.1 484.5 765.0 484.0C762.9 483.5 762.1 482.2 761.5 481.9" stroke-width="6.8"/>
<path d="M785.4 479.1C786.0 478.5 787.7 477.4 788.9 475.6C790.1 473.9 792.3 469.0 792.4 468.6C792.5 468.2 789.8 471.6 789.6 473.5C789.4 475.4 790.5 478.5 791.0 479.8C791.5 481.1 792.2 481.0 792.4 481.2" stroke-width="6.8"/>
<path d="M801.5 469.3L803.0 479.1" stroke-width="6.8"/>
<path d="M803.0 472.1C803.7 471.6 805.7 469.4 807.2 469.3C808.7 469.2 810.9 470.0 812.1 471.4C813.3 472.8 813.9 476.6 814.2 477.7" stroke-width="6.8"/>
<path d="M824.7 467.2C824.0 468.0 821.2 470.4 820.5 472.1C819.8 473.9 819.9 476.9 820.5 477.7C821.1 478.5 822.4 478.2 824.0 477.0C825.6 475.8 829.2 471.8 830.3 470.7" stroke-width="6.8"/>
<path d="M828.2 446.1C828.6 448.1 829.5 453.7 830.3 458.0C831.1 462.3 832.0 468.6 833.1 472.1C834.2 475.6 836.1 477.9 836.7 479.1" stroke-width="6.8"/>
<path d="M878.1 476.8C878.0 474.3 877.6 466.0 877.3 461.9C877.0 457.8 875.5 452.1 876.4 452.3C877.3 452.5 880.0 459.2 882.5 462.8C885.0 466.4 890.0 475.1 891.3 474.2C892.6 473.3 890.2 461.6 890.4 457.5C890.5 453.4 891.9 450.9 892.2 449.6" stroke-width="6.8"/>
<path d="M897.4 461.9C897.0 462.9 894.6 466.3 894.8 468.1C894.9 469.9 897.1 472.5 898.3 472.5C899.5 472.5 901.5 470.0 901.8 468.1C902.1 466.2 900.4 462.3 900.1 461.1" stroke-width="6.8"/>
<path d="M908.8 443.5C909.2 445.8 910.9 452.2 911.5 457.5C912.1 462.8 912.2 472.2 912.4 475.1" stroke-width="6.8"/>
<path d="M909.7 460.2C911.1 459.7 914.8 457.9 918.0 457.1C921.2 456.3 927.1 455.6 928.9 455.3" stroke-width="6.8"/>
<path d="M927.1 446.2L929.8 450.7" stroke-width="6.8"/>
<path d="M928.9 456.2L928.5 470.7" stroke-width="6.8"/>
<path d="M937.1 440.7C937.2 443.3 937.5 450.6 937.5 456.2C937.5 461.8 937.7 470.1 937.4 474.4C937.1 478.7 936.6 479.5 935.5 482.0C934.4 484.5 932.3 488.2 931.0 489.5C929.7 490.8 928.4 490.9 927.8 490.0C927.2 489.1 926.9 486.2 927.5 484.0C928.1 481.8 929.9 478.7 931.5 476.5C933.1 474.3 936.3 471.9 937.3 471.0" stroke-width="6.8"/>
<path d="M955.4 443.7L958.6 448.2" stroke-width="6.8"/>
<path d="M949.7 454.0C950.0 454.9 951.4 456.1 951.6 459.1C951.8 462.1 951.1 469.7 951.0 471.8" stroke-width="6.8"/>
<path d="M965.6 454.0C965.2 454.4 963.6 454.9 963.1 456.5C962.6 458.1 962.4 461.3 962.4 463.5C962.4 465.7 962.5 468.6 963.1 469.9C963.7 471.2 965.7 471.0 966.2 471.2" stroke-width="6.8"/>
<path d="M991.0 440.7C991.0 442.7 991.4 447.6 991.0 452.8C990.6 458.1 988.8 469.0 988.4 472.2" stroke-width="6.8"/>
<path d="M991.7 451.4C993.0 451.3 997.4 450.8 999.7 450.7C1002.1 450.6 1004.8 450.7 1005.8 450.7" stroke-width="6.8"/>
<path d="M1005.8 443.4L1007.1 447.4" stroke-width="6.8"/>
<path d="M1006.4 452.8L1004.4 468.2" stroke-width="6.8"/>
<path d="M1032.6 464.2L1032.6 450.7" stroke-width="6.8"/>
<path d="M1033.3 454.8C1034.2 454.4 1036.8 452.4 1038.6 452.1C1040.4 451.8 1043.2 451.6 1044.0 452.8C1044.8 454.0 1043.4 458.4 1043.3 459.5" stroke-width="6.8"/>
<path d="M779.1 514.9C778.0 514.6 774.3 513.0 772.4 513.3C770.5 513.6 768.5 514.8 767.5 516.6C766.5 518.4 765.9 522.2 766.6 524.1C767.3 526.0 769.5 527.9 771.6 528.2C773.7 528.5 777.4 527.0 779.1 525.7C780.8 524.5 781.7 522.1 781.6 520.7C781.5 519.3 779.8 518.1 778.3 517.4C776.8 516.7 773.4 516.7 772.4 516.6" stroke-width="6.8"/>
<path d="M784.9 506.6C785.2 506.9 786.5 506.6 786.6 508.3C786.7 510.0 785.7 513.1 785.7 516.6C785.7 520.1 786.5 524.9 786.6 529.0C786.8 533.1 787.4 538.3 786.6 541.5C785.8 544.7 783.4 547.3 781.6 548.1C779.8 548.9 777.0 547.9 775.8 546.5C774.5 545.1 773.5 542.1 774.1 539.8C774.7 537.4 777.3 534.0 779.1 532.4C780.9 530.8 783.9 530.3 784.9 529.9" stroke-width="6.8"/>
<path d="M817.9 501.2C818.6 503.0 821.3 508.9 822.1 512.2C822.9 515.5 823.0 518.0 822.7 521.2C822.4 524.4 820.7 529.8 820.3 531.5" stroke-width="6.8"/>
<path d="M814.8 516.4C815.2 516.0 815.1 514.6 817.3 514.0C819.5 513.4 825.5 513.1 828.2 512.8C830.9 512.5 832.4 511.3 833.6 512.2C834.8 513.1 835.2 516.0 835.5 518.2C835.8 520.4 835.5 524.3 835.5 525.5" stroke-width="6.8"/>
<path d="M838.5 501.8L840.3 507.3" stroke-width="6.8"/>
<path d="M843.9 514.0C844.3 514.2 845.6 513.8 846.4 515.2C847.2 516.6 847.7 522.5 848.8 522.5C849.9 522.5 851.5 517.0 853.0 515.2C854.5 513.4 856.6 511.2 857.9 511.5C859.2 511.8 860.1 515.9 860.9 517.0C861.7 518.1 861.8 518.6 862.7 518.2C863.6 517.8 865.3 514.4 866.4 514.6C867.5 514.8 868.0 518.3 869.2 519.2C870.4 520.1 872.4 519.6 873.6 519.8C874.8 520.0 875.1 521.8 876.4 520.3C877.7 518.8 880.9 512.8 881.5 510.8C882.1 508.8 881.1 507.9 880.3 508.1C879.4 508.3 877.0 510.0 876.4 512.0C875.8 514.0 876.4 518.7 876.4 520.0" stroke-width="6.8"/>
<path d="M889.3 510.8C889.5 510.2 889.6 507.2 890.4 507.5C891.1 507.8 893.0 510.4 893.8 512.5C894.5 514.6 894.7 519.0 894.9 520.3" stroke-width="6.8"/>
<path d="M894.9 511.4C895.6 510.8 897.5 508.9 899.3 508.1C901.1 507.4 904.5 507.1 905.5 506.9" stroke-width="6.8"/>
<path d="M661.3 538.6C664.2 537.9 669.7 537.8 673.7 538.1C677.7 538.4 681.5 539.0 685.2 540.5C688.9 542.0 692.8 544.8 695.7 547.2C698.6 549.6 701.1 552.5 702.4 554.9C703.7 557.3 703.9 558.9 703.4 561.6C702.9 564.3 701.6 568.1 699.5 571.1C697.4 574.1 694.2 577.4 691.0 579.8C687.8 582.2 684.1 584.4 680.4 585.5C676.7 586.6 672.6 587.0 668.9 586.5C665.2 586.0 661.3 584.7 658.4 582.6C655.5 580.5 653.1 577.2 651.7 574.0C650.3 570.8 649.8 567.3 649.8 563.5C649.8 559.7 650.6 554.5 651.7 551.0C652.8 547.5 654.9 544.5 656.5 542.4C658.1 540.3 658.4 539.3 661.3 538.6Z" stroke-width="5.9"/>
<path d="M659.4 542.4L665.1 541.5" stroke-width="5.9"/>
<path d="M667.0 541.5C667.3 542.6 667.1 546.3 668.9 548.2C670.6 550.1 675.8 551.6 677.5 553.0C679.2 554.4 679.7 555.5 679.4 556.8C679.1 558.1 678.1 559.6 675.6 560.6C673.1 561.6 667.5 561.5 664.1 562.5C660.8 563.5 657.2 564.8 655.5 566.4C653.8 568.0 653.8 570.2 653.6 572.1C653.5 574.0 654.4 576.8 654.6 577.8" stroke-width="5.9"/>
<path d="M676.6 560.6C677.7 561.2 681.4 563.3 683.3 564.4C685.2 565.5 686.4 566.7 688.1 567.3C689.9 567.9 692.8 567.7 693.8 567.8" stroke-width="5.9"/>
<ellipse cx="176.5" cy="213.5" rx="2.6" ry="3.6" transform="rotate(-20 176.5 213.5)" stroke-width="7.4"/>
<ellipse cx="335" cy="224" rx="3.5" ry="4" transform="rotate(0 335 224)" stroke-width="6.4"/>
<ellipse cx="347.5" cy="224" rx="3.5" ry="3.8" transform="rotate(0 347.5 224)" stroke-width="6.4"/>
<ellipse cx="964.7" cy="72.8" rx="3.6" ry="3.8" transform="rotate(0 964.7 72.8)" stroke-width="6.8"/>
<ellipse cx="652.7" cy="398.1" rx="2.4" ry="3.6" transform="rotate(0 652.7 398.1)" stroke-width="7.1"/>
<ellipse cx="982.1" cy="231.7" rx="2.8" ry="4.3" transform="rotate(-10 982.1 231.7)" stroke-width="6.8"/>
<ellipse cx="818.7" cy="303.3" rx="3.3" ry="7.2" transform="rotate(0 818.7 303.3)" stroke-width="6.8"/>
<ellipse cx="870.3" cy="300.2" rx="3.3" ry="4.8" transform="rotate(0 870.3 300.2)" stroke-width="6.8"/>
<ellipse cx="925.6" cy="361" rx="3.8" ry="4.8" transform="rotate(20 925.6 361)" stroke-width="6.8"/>
<ellipse cx="975.8" cy="461" rx="3" ry="5.8" transform="rotate(0 975.8 461)" stroke-width="6.8"/>
<ellipse cx="1019.2" cy="458.8" rx="3.5" ry="5" transform="rotate(0 1019.2 458.8)" stroke-width="6.8"/>
</g>
<g fill="none" stroke-linecap="round" stroke-linejoin="round">
<path d="M32.4 343.6C35.6 341.9 41.6 341.0 46.2 340.9C50.8 340.8 55.8 341.5 59.9 343.0C64.0 344.5 67.6 346.9 70.8 349.8C74.0 352.8 76.9 356.8 79.0 360.7C81.1 364.6 83.0 368.9 83.2 373.0C83.5 377.1 82.1 381.8 80.5 385.5C78.9 389.2 77.0 392.1 73.6 395.0C70.2 397.9 65.1 401.4 59.9 403.2C54.6 405.0 47.1 406.2 42.1 406.0C37.1 405.8 33.0 404.6 29.8 401.9C26.6 399.2 24.3 393.9 22.9 389.6C21.5 385.3 21.5 380.5 21.5 375.9C21.5 371.3 22.0 366.3 22.9 362.2C23.8 358.1 25.4 354.3 27.0 351.2C28.6 348.1 29.2 345.3 32.4 343.6Z" stroke="#d9c9f0" stroke-width="4.0"/>
<path d="M31.5 345.0C32.2 344.8 34.2 343.9 35.8 344.0C37.4 344.1 40.0 345.2 40.9 345.5" stroke="#d9c9f0" stroke-width="4.0"/>
<path d="M35.8 345.8C35.9 347.9 35.4 355.6 36.6 358.7C37.8 361.8 40.7 363.0 43.0 364.4C45.3 365.8 49.2 365.9 50.2 367.3C51.2 368.7 49.5 371.1 48.8 373.0C48.1 374.9 46.4 377.8 45.9 378.8" stroke="#d9c9f0" stroke-width="4.0"/>
<path d="M24.4 387.4C24.6 386.2 24.4 381.6 25.8 380.2C27.2 378.8 29.6 379.0 33.0 378.8C36.4 378.6 43.8 378.8 45.9 378.8" stroke="#d9c9f0" stroke-width="4.0"/>
<path d="M50.2 371.6C51.4 370.9 54.5 368.2 57.4 367.3C60.3 366.4 63.7 365.6 67.4 365.9C71.1 366.1 77.5 368.3 79.5 368.8" stroke="#d9c9f0" stroke-width="4.0"/>
<path d="M47.3 378.8C48.5 379.8 52.6 382.4 54.5 384.5C56.4 386.6 57.1 390.0 58.8 391.7C60.5 393.4 62.1 393.8 64.5 394.6C66.9 395.4 71.8 396.4 73.2 396.7" stroke="#d9c9f0" stroke-width="4.0"/>
<path d="M78.0 332.5C85.0 328.4 106.8 314.9 120.0 307.8C133.2 300.7 145.0 295.3 157.5 289.8C170.0 284.3 184.5 278.9 195.0 274.6C205.5 270.3 216.2 265.8 220.5 264.0" stroke="#d9c9f0" stroke-width="4.2"/>
<path d="M210.0 261.0C211.8 261.3 220.9 259.6 221.0 262.8C221.1 265.9 212.5 277.1 210.8 280.0" stroke="#d9c9f0" stroke-width="4.2"/>
<path d="M68.8 184.6C68.4 184.5 66.9 183.4 66.3 183.9C65.7 184.4 65.2 184.3 65.0 187.8C64.8 191.3 64.9 199.7 64.8 205.0C64.7 210.3 64.6 217.1 64.6 219.5" stroke="#d9c9f0" stroke-width="4.2"/>
<path d="M85.4 183.3C84.9 183.8 83.2 184.9 82.3 186.5C81.4 188.1 80.1 191.1 80.3 192.9C80.5 194.7 81.7 196.0 83.5 197.3C85.3 198.6 89.8 199.3 91.2 200.5C92.6 201.7 92.7 203.7 91.8 204.4C90.9 205.2 87.3 205.2 86.1 205.0C84.9 204.8 85.0 203.3 84.8 203.0" stroke="#d9c9f0" stroke-width="4.2"/>
<path d="M96.3 182.0L99.5 200.5" stroke="#d9c9f0" stroke-width="4.2"/>
<path d="M93.7 193.5L102.0 190.3" stroke="#d9c9f0" stroke-width="4.2"/>
<path d="M107.2 188.0L111.5 195.2" stroke="#d9c9f0" stroke-width="5.2"/>
<path d="M114.4 186.6L118.7 191.6" stroke="#d9c9f0" stroke-width="4.2"/>
<path d="M117.2 185.2L121.5 181.6" stroke="#d9c9f0" stroke-width="4.2"/>
<path d="M122.3 171.5L130.9 193.0" stroke="#d9c9f0" stroke-width="4.2"/>
<path d="M120.8 180.8L131.6 175.8" stroke="#d9c9f0" stroke-width="4.2"/>
<path d="M141.6 165.8L154.6 160.0" stroke="#d9c9f0" stroke-width="4.2"/>
<path d="M148.8 166.5L154.6 186.6" stroke="#d9c9f0" stroke-width="4.2"/>
<path d="M167.1 158.9L167.8 161.5" stroke="#d9c9f0" stroke-width="4.2"/>
<path d="M163.3 168.5L165.8 181.2" stroke="#d9c9f0" stroke-width="4.2"/>
<path d="M173.5 178.1C173.4 176.4 172.5 169.8 172.9 167.9C173.3 166.0 174.7 166.4 176.0 166.6C177.3 166.8 179.7 167.6 180.5 169.1C181.3 170.6 180.8 175.5 181.1 175.5C181.4 175.5 181.4 170.8 182.4 169.1C183.4 167.4 185.6 165.3 186.9 165.3C188.2 165.3 189.5 167.6 190.1 169.1C190.7 170.6 190.0 173.9 190.7 174.2C191.4 174.5 193.2 173.0 194.5 171.0C195.8 169.0 197.1 163.8 198.4 162.1C199.7 160.4 200.9 160.7 202.2 160.8C203.5 160.9 205.2 161.3 206.0 162.8C206.8 164.3 206.6 170.2 207.3 169.8C208.1 169.4 209.6 162.3 210.5 160.2C211.4 158.1 212.6 157.5 213.0 157.0" stroke="#d9c9f0" stroke-width="4.2"/>
<path d="M228.3 173.4C229.0 174.2 231.3 176.3 232.5 178.4C233.7 180.5 234.7 183.2 235.3 186.1C235.9 189.0 235.9 194.3 236.0 195.9" stroke="#d9c9f0" stroke-width="4.2"/>
<path d="M243.1 172.7L247.3 165.7" stroke="#d9c9f0" stroke-width="4.2"/>
<path d="M242.4 174.1C242.6 174.8 242.5 177.9 243.8 178.4C245.1 178.9 248.5 176.5 250.1 177.0C251.7 177.5 253.2 179.4 253.6 181.2C253.9 182.9 253.6 186.1 252.2 187.5C250.8 188.9 246.7 189.6 245.2 189.6C243.7 189.6 243.4 187.8 243.1 187.5" stroke="#d9c9f0" stroke-width="4.2"/>
<path d="M262.7 164.9L262.7 175.2" stroke="#d9c9f0" stroke-width="4.2"/>
<path d="M263.6 169.2C264.6 169.9 272.2 175.5 273.1 176.5C274.0 177.5 273.0 179.1 272.2 179.5C271.4 179.9 266.0 180.3 265.3 180.4" stroke="#d9c9f0" stroke-width="4.2"/>
<path d="M201.5 198.8L208.1 194.4" stroke="#d9c9f0" stroke-width="4.2"/>
<path d="M204.4 201.7L209.6 201.0" stroke="#d9c9f0" stroke-width="4.2"/>
<path d="M104.1 247.3C103.4 247.1 101.7 245.4 99.9 245.9C98.2 246.4 94.9 248.2 93.6 250.1C92.3 252.0 91.6 255.1 92.2 257.1C92.8 259.1 95.1 261.9 97.1 262.0C99.1 262.1 102.1 259.6 104.1 257.8C106.1 256.1 108.3 252.6 109.1 251.5" stroke="#d9c9f0" stroke-width="4.2"/>
<path d="M102.6 232.6C103.2 234.0 105.3 238.2 106.2 240.8C107.1 243.4 107.6 246.5 108.2 248.4C108.8 250.3 109.2 251.8 109.8 252.5C110.4 253.2 111.2 253.9 111.8 252.8C112.4 251.7 113.1 248.4 113.6 246.0C114.1 243.6 114.4 238.2 114.9 238.2C115.4 238.2 116.0 244.1 116.5 246.0C117.0 247.9 117.4 248.8 118.0 249.5C118.6 250.2 119.9 249.9 120.3 250.0" stroke="#d9c9f0" stroke-width="4.2"/>
<path d="M123.0 235.7C123.8 236.7 126.3 242.3 127.6 241.8C128.9 241.3 130.2 234.1 130.7 232.6" stroke="#d9c9f0" stroke-width="4.2"/>
<path d="M138.5 231.1L145.5 226.2" stroke="#d9c9f0" stroke-width="4.2"/>
<path d="M141.3 229.7L144.8 235.3" stroke="#d9c9f0" stroke-width="4.2"/>
<path d="M149.4 211.3L159.7 231.1" stroke="#d9c9f0" stroke-width="4.2"/>
<path d="M151.6 217.9L167.7 212.0" stroke="#d9c9f0" stroke-width="4.2"/>
<path d="M166.3 205.4L169.2 207.6" stroke="#d9c9f0" stroke-width="4.2"/>
<path d="M167.0 213.5L172.1 225.2" stroke="#d9c9f0" stroke-width="4.2"/>
<path d="M184.6 215.0C184.4 213.8 182.7 209.1 183.2 207.6C183.7 206.1 186.1 206.1 187.6 206.1C189.1 206.1 190.9 206.5 192.0 207.6C193.1 208.7 193.8 211.8 194.2 212.7" stroke="#d9c9f0" stroke-width="4.2"/>
<path d="M274.6 195.5C275.7 195.2 278.7 193.4 285.7 192.3C292.7 191.2 330.6 185.7 345.0 184.3C359.4 182.9 416.9 179.3 430.0 178.5C443.1 177.7 470.9 176.1 476.2 176.2C481.5 176.3 481.6 177.4 482.6 179.3C483.6 181.2 485.4 191.7 486.0 195.0C486.6 198.3 488.2 208.7 489.0 212.0C489.8 215.3 493.4 225.2 494.0 228.0C494.6 230.8 495.0 237.7 495.0 240.0C495.0 242.3 494.3 250.1 493.7 251.0C493.1 251.9 491.4 249.9 489.0 249.5C486.6 249.1 475.7 247.1 469.8 247.0C463.9 246.9 442.5 247.9 430.0 248.7C417.5 249.4 356.7 253.5 345.0 254.5C333.3 255.5 319.1 257.7 312.8 258.4C306.5 259.1 284.8 261.3 281.7 261.6" stroke="#78b6ee" stroke-width="3.8"/>
<path d="M274.6 195.5C274.9 197.7 277.2 212.6 277.7 217.8C278.2 223.1 279.1 245.0 279.3 248.0" stroke="#78b6ee" stroke-width="3.8"/>
<path d="M283.3 252.0L281.7 261.6" stroke="#78b6ee" stroke-width="3.8"/>
<path d="M307.0 215.0L308.0 233.0" stroke="#78b6ee" stroke-width="3.8"/>
<path d="M306.0 207.0C306.7 206.7 308.8 204.3 310.0 205.0C311.2 205.7 312.8 209.2 313.0 211.0C313.2 212.8 312.0 215.0 311.0 216.0C310.0 217.0 307.7 216.8 307.0 217.0" stroke="#78b6ee" stroke-width="3.8"/>
<path d="M320.0 221.0L322.0 229.0" stroke="#78b6ee" stroke-width="3.8"/>
<path d="M320.0 222.0C320.5 221.5 321.8 219.7 323.0 219.0C324.2 218.3 326.3 218.2 327.0 218.0" stroke="#78b6ee" stroke-width="3.8"/>
<path d="M350.0 206.0C350.3 207.8 351.4 214.8 352.0 217.0C352.6 219.2 352.7 218.1 353.3 219.5C353.9 220.9 354.3 225.2 355.6 225.7C356.9 226.2 359.9 223.8 361.2 222.3C362.5 220.8 362.5 217.4 363.4 216.7C364.3 216.0 365.7 217.2 366.7 217.9C367.7 218.6 368.8 219.6 369.5 220.6C370.2 221.6 370.9 223.4 371.2 224.0" stroke="#78b6ee" stroke-width="3.8"/>
<path d="M380.1 216.7C379.6 217.1 377.5 218.0 376.8 219.0C376.1 220.0 375.7 221.8 376.2 222.9C376.7 224.0 378.3 225.4 379.6 225.7C380.9 226.0 382.6 225.2 384.0 224.6C385.4 224.0 387.1 223.3 388.0 222.3C388.9 221.3 389.4 219.1 389.1 218.4C388.8 217.7 387.1 217.4 386.3 217.9C385.6 218.4 384.3 220.1 384.6 221.2C384.9 222.3 386.7 224.1 388.0 224.6C389.3 225.1 391.1 224.8 392.4 224.0C393.7 223.2 394.9 220.8 395.8 219.5C396.7 218.2 397.3 216.4 398.0 216.2C398.7 216.0 399.8 217.1 400.2 218.4C400.6 219.7 400.2 223.1 400.2 224.0" stroke="#78b6ee" stroke-width="3.8"/>
<path d="M506.0 217.0C506.5 217.2 503.8 219.1 509.0 218.5C514.2 217.9 528.2 214.9 537.5 213.3C546.8 211.7 560.0 209.6 564.5 208.8" stroke="#d9c9f0" stroke-width="4.2"/>
<path d="M563.0 202.0C563.3 202.5 564.9 206.4 566.0 207.3C567.1 208.2 574.1 209.4 574.3 211.0C574.4 212.6 568.2 221.8 567.5 223.0" stroke="#d9c9f0" stroke-width="4.2"/>
<path d="M603.6 177.2C604.1 177.1 603.1 176.8 608.7 175.8C614.3 174.8 650.9 168.4 660.0 167.2C669.1 165.9 691.4 164.2 700.0 163.3C708.6 162.4 741.2 158.9 746.1 158.6C751.0 158.3 748.4 158.7 748.8 160.0C749.2 161.3 749.7 168.8 750.2 172.0C750.7 175.2 753.5 188.4 754.2 192.5C754.9 196.6 756.9 210.4 757.0 212.8C757.1 215.2 757.2 216.0 755.6 216.9C754.0 217.8 746.3 221.1 740.7 222.3C735.1 223.5 708.1 227.6 700.0 229.0C691.9 230.4 669.1 234.7 660.0 236.0C650.9 237.3 614.5 241.8 609.4 242.5" stroke="#e0b63c" stroke-width="4.0"/>
<path d="M603.6 177.2C603.7 180.5 604.3 204.0 604.5 210.0C604.7 216.0 605.7 234.8 605.8 237.5" stroke="#e0b63c" stroke-width="4.0"/>
<path d="M603.6 234.6L605.8 237.5" stroke="#e0b63c" stroke-width="4.0"/>
<path d="M644.6 190.8L647.1 213.2" stroke="#e0b63c" stroke-width="4.0"/>
<path d="M647.8 206.8C649.8 204.0 657.6 191.3 659.9 190.2C662.2 189.1 660.9 196.1 661.5 200.0C662.1 203.9 663.3 211.5 663.7 213.8" stroke="#e0b63c" stroke-width="4.0"/>
<path d="M681.0 185.7C679.9 186.9 675.8 189.7 674.5 192.8C673.2 195.9 672.6 201.3 673.3 204.2C673.9 207.1 676.5 209.4 678.4 210.0C680.3 210.6 683.1 209.8 684.7 208.0C686.3 206.2 687.8 202.1 688.0 199.0C688.2 195.9 687.2 191.8 686.0 189.6C684.8 187.4 681.8 186.3 681.0 185.7" stroke="#e0b63c" stroke-width="4.0"/>
<path d="M676.5 191.5C678.4 194.4 686.0 205.0 688.0 208.7C690.0 212.4 689.4 212.6 688.6 213.8C687.9 215.0 684.4 215.4 683.5 215.7" stroke="#e0b63c" stroke-width="4.0"/>
<path d="M477.5 104.9L478.3 138.1" stroke="#d9c9f0" stroke-width="4.2"/>
<path d="M476.6 100.8C476.9 100.1 477.2 97.3 478.3 96.6C479.4 95.9 481.8 95.5 483.3 96.6C484.8 97.7 486.7 100.8 487.4 103.3C488.1 105.8 488.1 109.4 487.4 111.6C486.7 113.8 484.7 115.7 483.3 116.5C481.9 117.3 479.8 116.5 479.1 116.5" stroke="#d9c9f0" stroke-width="4.2"/>
<path d="M493.2 119.9L494.9 133.1" stroke="#d9c9f0" stroke-width="4.2"/>
<path d="M493.5 119.0C494.1 118.6 496.1 117.0 497.4 116.5C498.7 116.0 500.8 115.8 501.5 115.7" stroke="#d9c9f0" stroke-width="4.2"/>
<path d="M509.0 123.2L511.5 129.0" stroke="#d9c9f0" stroke-width="5.0"/>
<path d="M529.7 115.7C528.7 116.1 525.4 116.5 523.9 118.2C522.4 119.9 520.7 123.8 520.6 125.7C520.5 127.6 521.6 130.0 523.1 129.8C524.6 129.7 528.6 125.6 529.7 124.8" stroke="#d9c9f0" stroke-width="4.2"/>
<path d="M523.9 98.3C524.5 100.4 526.0 106.5 527.2 110.7C528.5 114.9 530.0 121.3 531.4 123.2C532.8 125.1 534.2 122.3 535.5 122.3C536.8 122.3 538.5 125.5 539.2 123.3C539.9 121.1 539.8 111.5 539.9 109.2" stroke="#d9c9f0" stroke-width="4.2"/>
<path d="M539.9 109.2C540.4 111.3 541.6 119.7 542.7 121.9C543.8 124.1 545.6 124.4 546.3 122.6C547.0 120.8 546.9 113.2 547.0 111.3" stroke="#d9c9f0" stroke-width="4.2"/>
<path d="M547.0 111.3C547.4 112.7 548.1 118.0 549.1 119.8C550.1 121.6 552.1 121.6 552.7 121.9" stroke="#d9c9f0" stroke-width="4.2"/>
<path d="M561.2 109.9C561.1 111.2 560.3 115.8 560.5 117.7C560.7 119.6 561.3 120.7 562.6 121.2C563.9 121.7 567.0 121.3 568.2 120.5C569.4 119.7 569.5 118.7 569.7 116.2C570.0 113.7 569.7 107.4 569.7 105.6" stroke="#d9c9f0" stroke-width="4.2"/>
<path d="M569.7 105.6C569.8 107.8 569.5 116.0 570.4 119.1C571.3 122.2 574.5 123.2 575.3 124.0" stroke="#d9c9f0" stroke-width="4.2"/>
<path d="M599.4 104.9C598.6 105.4 595.3 105.8 594.4 107.7C593.5 109.6 593.2 114.1 593.7 116.2C594.2 118.3 596.2 120.5 597.3 120.5C598.4 120.5 599.8 117.9 600.1 116.2C600.5 114.5 599.5 111.5 599.4 110.6" stroke="#d9c9f0" stroke-width="4.2"/>
<path d="M600.8 106.3C601.5 106.7 603.8 107.0 605.1 108.5C606.4 110.0 608.0 114.3 608.6 115.5" stroke="#d9c9f0" stroke-width="4.2"/>
<path d="M625.6 101.0L629.6 111.3" stroke="#d9c9f0" stroke-width="4.2"/>
<path d="M629.6 104.9C630.4 104.2 633.1 101.1 634.4 101.0C635.7 100.9 637.2 102.9 637.5 104.1C637.8 105.3 636.2 107.4 636.0 108.1" stroke="#d9c9f0" stroke-width="4.2"/>
<path d="M639.1 102.5C639.9 102.0 642.4 99.4 643.9 99.4C645.4 99.4 647.1 100.9 647.9 102.5C648.7 104.1 648.6 107.8 648.7 108.9" stroke="#d9c9f0" stroke-width="4.2"/>
<path d="M659.1 95.4C658.3 96.1 655.0 98.0 654.3 99.4C653.6 100.9 654.2 102.8 655.1 104.1C656.0 105.4 659.5 106.4 659.9 107.3C660.3 108.2 657.9 109.3 657.5 109.7" stroke="#d9c9f0" stroke-width="4.2"/>
<path d="M671.8 98.6C671.3 98.7 668.7 98.8 668.6 99.4C668.5 100.1 670.1 102.5 671.0 102.5C671.9 102.5 673.7 99.9 674.2 99.4" stroke="#d9c9f0" stroke-width="4.2"/>
<path d="M674.2 99.4C674.5 101.0 675.3 105.3 675.8 108.9C676.3 112.5 677.7 117.4 677.4 120.9C677.1 124.4 675.9 128.2 674.2 129.7C672.5 131.2 668.9 130.9 667.0 129.7C665.1 128.5 663.5 125.0 663.1 122.5C662.7 120.0 663.2 116.8 664.7 114.5C666.2 112.2 670.6 109.8 671.8 108.9" stroke="#d9c9f0" stroke-width="4.2"/>
<path d="M692.5 94.1C692.9 95.4 693.6 101.2 695.0 101.7C696.4 102.2 699.1 97.5 700.8 97.3C702.5 97.1 703.9 101.3 705.2 100.5C706.5 99.7 707.2 92.9 708.4 92.2C709.6 91.5 710.7 96.0 712.3 96.6C713.9 97.2 716.5 95.8 718.0 96.0C719.5 96.2 720.7 97.6 721.2 97.9" stroke="#d9c9f0" stroke-width="4.2"/>
<path d="M719.3 87.1L721.2 97.9" stroke="#d9c9f0" stroke-width="4.2"/>
<path d="M720.5 74.3L721.2 76.8" stroke="#d9c9f0" stroke-width="4.2"/>
<path d="M727.6 73.0L729.5 100.5" stroke="#d9c9f0" stroke-width="4.2"/>
<path d="M728.8 82.0L741.0 79.4" stroke="#d9c9f0" stroke-width="4.2"/>
<path d="M741.0 74.3L741.0 97.3" stroke="#d9c9f0" stroke-width="4.2"/>
<path d="M742.2 85.1C743.0 84.8 745.3 83.0 746.7 83.2C748.1 83.4 749.8 84.0 750.5 86.4C751.2 88.9 751.1 96.0 751.2 97.9" stroke="#d9c9f0" stroke-width="4.2"/>
<path d="M786.9 64.6C787.1 65.3 788.1 65.7 788.3 68.7C788.5 71.7 788.5 78.4 788.3 82.4C788.1 86.4 787.1 91.0 786.9 92.7" stroke="#d9c9f0" stroke-width="4.2"/>
<path d="M798.6 68.7L808.2 65.3" stroke="#d9c9f0" stroke-width="4.2"/>
<path d="M798.6 68.7C798.6 70.2 797.5 76.3 798.6 77.6C799.7 78.8 803.5 75.7 805.4 76.2C807.3 76.7 809.7 78.7 810.2 80.4C810.7 82.1 810.1 85.0 808.2 86.5C806.3 88.0 800.2 88.8 798.6 89.3" stroke="#d9c9f0" stroke-width="4.2"/>
<path d="M821.2 71.4C820.9 72.3 818.5 75.5 819.1 76.9C819.7 78.3 823.0 78.6 824.6 79.7C826.2 80.8 828.4 82.0 828.7 83.8C829.1 85.6 828.3 89.5 826.7 90.6C825.1 91.7 820.4 91.3 819.1 90.6C817.8 89.9 818.4 87.6 819.1 86.5C819.8 85.4 822.5 84.2 823.2 83.8" stroke="#d9c9f0" stroke-width="4.2"/>
<path d="M846.5 70.8C845.6 71.2 842.5 72.0 841.1 73.5C839.7 75.0 838.1 78.2 838.3 79.7C838.5 81.2 840.7 82.8 842.4 82.4C844.1 82.1 847.6 78.4 848.6 77.6" stroke="#d9c9f0" stroke-width="4.2"/>
<path d="M849.3 59.1C849.5 60.7 850.2 65.3 850.7 68.7C851.2 72.1 851.2 77.7 852.0 79.7C852.8 81.8 854.9 80.8 855.5 81.0" stroke="#d9c9f0" stroke-width="4.2"/>
<path d="M853.5 75.4C854.4 74.4 857.2 70.8 858.8 69.3C860.4 67.8 862.5 66.4 863.2 66.7C863.9 67.0 864.1 69.4 863.2 71.0C862.3 72.6 858.5 74.7 857.9 76.3C857.3 77.9 858.6 79.7 859.6 80.7C860.6 81.7 863.3 82.2 864.0 82.5" stroke="#d9c9f0" stroke-width="4.2"/>
<path d="M871.1 57.0C871.4 58.8 872.4 63.7 872.8 67.5C873.2 71.3 873.6 77.8 873.7 79.8" stroke="#d9c9f0" stroke-width="4.2"/>
<path d="M882.5 71.0C881.6 71.6 877.5 73.0 877.2 74.6C876.9 76.2 879.2 80.1 880.7 80.7C882.2 81.3 885.3 79.5 886.0 78.0C886.7 76.5 885.7 73.1 885.1 71.9C884.5 70.7 882.9 71.2 882.5 71.0" stroke="#d9c9f0" stroke-width="4.2"/>
<path d="M886.8 72.8C887.8 73.4 891.0 76.4 893.0 76.3C895.0 76.2 897.5 73.5 899.1 71.9C900.7 70.3 902.0 67.6 902.6 66.7" stroke="#d9c9f0" stroke-width="4.2"/>
<path d="M902.6 66.7C902.9 68.3 903.7 72.5 904.4 76.3C905.1 80.1 906.7 85.7 907.0 89.5C907.3 93.3 907.6 97.2 906.1 99.1C904.6 101.0 901.1 101.1 898.2 100.9C895.3 100.8 890.4 99.7 888.6 98.2C886.9 96.7 886.5 93.7 887.7 92.1C888.9 90.5 893.6 89.2 895.6 88.6C897.6 88.0 899.3 88.6 900.0 88.6" stroke="#d9c9f0" stroke-width="4.2"/>
<path d="M928.4 56.8L929.0 82.4" stroke="#d9c9f0" stroke-width="4.2"/>
<path d="M929.7 69.0C930.6 68.7 933.3 67.7 934.8 67.0C936.3 66.3 938.0 65.4 938.6 65.1" stroke="#d9c9f0" stroke-width="4.2"/>
<path d="M940.5 57.5C940.7 59.8 941.3 67.9 941.8 71.5C942.3 75.1 942.8 77.9 943.7 79.2C944.7 80.5 946.1 80.5 947.5 79.2C948.9 77.9 950.9 73.5 952.0 71.5C953.1 69.5 954.0 68.0 953.9 67.0C953.8 66.0 952.1 65.3 951.3 65.8C950.4 66.3 949.0 68.4 948.8 70.2C948.6 72.0 949.5 75.1 950.0 76.6C950.5 78.1 951.7 78.8 952.0 79.2" stroke="#d9c9f0" stroke-width="4.2"/>
<path d="M977.3 49.7C977.6 51.4 978.8 56.9 979.2 60.0C979.6 63.1 979.8 66.9 979.9 68.3" stroke="#d9c9f0" stroke-width="4.2"/>
<path d="M978.6 67.0C978.0 67.4 975.5 68.3 974.8 69.5C974.0 70.7 973.5 73.3 974.1 74.0C974.7 74.7 977.3 73.9 978.6 73.4C979.9 72.9 980.5 70.8 981.8 70.8C983.1 70.8 984.7 73.2 986.2 73.4C987.7 73.6 989.3 73.7 990.7 72.1C992.1 70.5 993.5 64.4 994.5 63.8C995.5 63.2 995.6 67.1 996.5 68.3C997.4 69.5 998.4 71.3 999.7 70.8C1001.0 70.3 1002.9 65.3 1004.1 65.1C1005.3 64.9 1006.1 68.1 1006.7 69.5C1007.4 70.9 1007.8 72.8 1008.0 73.4" stroke="#d9c9f0" stroke-width="4.2"/>
<path d="M688.7 252.9C689.3 255.2 691.3 260.6 692.3 266.5C693.2 272.4 693.8 280.8 694.4 288.0C695.0 295.2 695.4 303.4 695.9 309.6C696.4 315.8 697.1 322.8 697.3 325.4" stroke="#d9c9f0" stroke-width="4.2"/>
<path d="M683.7 312.5C684.6 313.5 695.1 327.1 696.6 326.8C698.1 326.5 705.9 309.4 706.6 308.2" stroke="#d9c9f0" stroke-width="4.2"/>
<path d="M618.6 367.3C620.3 367.0 628.7 365.5 635.3 364.2C641.9 362.9 678.5 355.7 685.0 354.4C691.5 353.1 695.0 352.0 700.0 351.3C705.0 350.6 726.6 347.9 735.0 347.0C743.4 346.1 779.1 342.8 784.2 342.5C789.3 342.2 786.0 340.8 786.0 344.3C786.0 347.8 784.7 370.8 784.2 377.6C783.7 384.4 783.9 409.0 780.7 412.7C777.5 416.4 758.0 414.0 752.6 414.5C747.2 415.0 731.6 417.3 726.3 418.0C721.0 418.7 704.1 420.9 700.0 421.5C695.9 422.1 690.0 423.4 685.0 424.0C680.0 424.6 656.8 427.4 650.5 427.9C644.2 428.4 624.6 428.5 621.7 428.6" stroke="#ee5aa8" stroke-width="3.8"/>
<path d="M618.6 367.3C618.8 369.9 620.0 388.1 620.2 393.0C620.4 397.9 620.9 413.5 621.0 415.8" stroke="#ee5aa8" stroke-width="3.8"/>
<path d="M620.2 424.0L619.4 427.9" stroke="#ee5aa8" stroke-width="3.8"/>
<path d="M644.4 388.5C643.4 388.0 639.9 384.8 638.3 385.5C636.6 386.2 635.0 390.0 634.5 393.0C634.0 396.0 634.4 401.3 635.3 403.6C636.2 405.9 638.0 406.3 639.8 406.7C641.6 407.1 644.9 406.1 645.9 406.0" stroke="#ee5aa8" stroke-width="3.8"/>
<path d="M659.4 392.4L660.8 401.0" stroke="#ee5aa8" stroke-width="3.8"/>
<path d="M660.5 394.0C661.1 393.7 662.9 392.4 664.1 392.4C665.3 392.4 666.4 392.5 667.5 393.8C668.6 395.1 669.8 400.6 670.8 400.0C671.8 399.4 672.5 390.9 673.7 390.0C674.9 389.1 676.7 392.9 678.0 394.7C679.3 396.4 680.4 401.7 681.4 400.5C682.4 399.3 683.2 389.0 684.2 387.6C685.2 386.2 686.4 392.2 687.6 392.4C688.8 392.6 689.9 388.2 691.4 389.0C692.9 389.8 695.8 395.8 696.7 397.1" stroke="#ee5aa8" stroke-width="3.8"/>
<path d="M700.6 387.3C701.0 387.6 702.0 387.4 702.7 388.8C703.4 390.2 703.9 396.0 704.7 396.0C705.6 396.0 706.7 390.3 707.8 388.8C708.9 387.3 710.5 386.0 711.3 386.8C712.0 387.6 711.6 393.1 712.3 393.4C713.0 393.6 714.3 389.6 715.4 388.3C716.5 387.0 717.9 385.7 719.0 385.8C720.1 385.9 721.0 388.0 722.0 388.8C723.0 389.6 724.1 390.4 725.1 390.4C726.1 390.4 727.6 389.9 728.2 388.8C728.8 387.7 728.9 384.2 728.7 383.7C728.5 383.2 727.1 385.1 727.0 386.0C726.9 386.9 727.7 387.7 728.2 388.8C728.7 389.9 729.9 391.8 730.2 392.4" stroke="#ee5aa8" stroke-width="3.8"/>
<path d="M737.3 385.3C737.9 385.1 739.9 383.6 740.9 384.2C741.9 384.8 742.6 387.3 743.0 388.8C743.4 390.3 743.0 392.6 743.0 393.4" stroke="#ee5aa8" stroke-width="3.8"/>
<path d="M743.5 384.8C744.1 384.1 745.6 381.6 747.0 380.7C748.4 379.8 751.2 379.4 752.1 379.1" stroke="#ee5aa8" stroke-width="3.8"/>
<path d="M752.7 264.9C752.6 262.6 752.2 254.8 751.9 251.1C751.6 247.4 750.9 242.8 751.1 242.7C751.4 242.6 752.6 249.0 753.4 250.4C754.2 251.8 754.6 251.9 755.7 251.1C756.9 250.3 758.8 247.5 760.3 245.8C761.8 244.2 763.6 241.2 764.9 241.2C766.2 241.2 767.2 243.9 768.0 245.8C768.8 247.7 769.1 250.4 769.5 252.7C769.9 255.0 770.1 258.4 770.2 259.5" stroke="#d9c9f0" stroke-width="4.2"/>
<path d="M777.1 253.4C777.9 251.8 780.6 244.1 781.7 243.5C782.9 242.9 783.5 247.4 784.0 249.6C784.5 251.8 784.7 255.3 784.8 256.5" stroke="#d9c9f0" stroke-width="4.2"/>
<path d="M794.7 243.5C794.2 244.3 791.8 246.8 791.7 248.1C791.6 249.4 793.1 251.5 794.0 251.1C794.9 250.7 796.5 246.7 797.0 245.8" stroke="#d9c9f0" stroke-width="4.2"/>
<path d="M797.0 245.8C797.5 247.6 799.8 252.2 800.1 256.5C800.4 260.8 799.9 268.8 798.6 271.8C797.3 274.9 794.1 275.4 792.4 274.8C790.7 274.2 789.0 270.3 788.6 268.0C788.2 265.7 789.0 262.9 790.1 261.1C791.2 259.3 794.6 257.9 795.5 257.2" stroke="#d9c9f0" stroke-width="4.2"/>
<path d="M831.7 238.2C832.1 239.6 833.2 244.9 834.3 246.5C835.4 248.1 836.9 248.8 838.1 247.8C839.3 246.9 840.3 241.1 841.3 240.8C842.3 240.5 842.9 244.8 843.9 245.9C844.9 247.0 845.8 247.9 847.1 247.2C848.4 246.4 850.5 242.9 851.5 241.4C852.5 239.9 853.1 238.7 853.4 238.2" stroke="#d9c9f0" stroke-width="4.2"/>
<path d="M856.0 238.2C856.3 239.5 857.3 244.5 857.9 245.9C858.5 247.3 859.5 246.4 859.8 246.5" stroke="#d9c9f0" stroke-width="4.2"/>
<path d="M854.7 226.8L856.0 230.6" stroke="#d9c9f0" stroke-width="4.2"/>
<path d="M863.7 222.3C864.1 224.4 865.7 230.8 866.2 235.0C866.7 239.2 866.7 245.2 866.8 247.2" stroke="#d9c9f0" stroke-width="4.2"/>
<path d="M872.0 219.7C872.4 221.4 874.1 225.3 874.5 230.0C874.9 234.7 874.5 244.8 874.5 247.8" stroke="#d9c9f0" stroke-width="4.2"/>
<path d="M894.1 218.7C894.4 220.6 895.5 225.6 895.9 230.2C896.3 234.8 896.4 243.4 896.5 246.0" stroke="#d9c9f0" stroke-width="4.2"/>
<path d="M897.1 236.2C897.8 235.2 900.1 231.3 901.4 230.2C902.7 229.1 904.2 229.1 905.0 229.6C905.8 230.1 906.4 231.6 906.2 233.2C906.0 234.8 904.7 237.5 903.8 239.3C902.9 241.1 901.3 243.3 900.8 244.1" stroke="#d9c9f0" stroke-width="4.2"/>
<path d="M900.8 244.1C901.7 243.5 904.3 242.0 906.2 240.5C908.1 239.0 910.5 237.0 912.3 235.0C914.1 233.0 916.4 229.8 917.1 228.4C917.8 227.0 917.3 226.5 916.5 226.5C915.7 226.5 913.5 227.2 912.3 228.4C911.1 229.6 909.4 231.9 909.2 233.8C909.0 235.7 909.3 238.5 911.0 239.9C912.7 241.3 918.1 241.9 919.5 242.3" stroke="#d9c9f0" stroke-width="4.2"/>
<path d="M958.8 226.3C957.8 226.5 954.2 226.2 952.6 227.6C951.0 229.0 949.4 232.2 949.2 234.5C949.0 236.8 950.0 240.7 951.2 241.4C952.5 242.1 955.1 240.1 956.7 238.6C958.3 237.1 959.9 234.4 960.8 232.4C961.7 230.4 962.0 227.3 962.2 226.3" stroke="#d9c9f0" stroke-width="4.2"/>
<path d="M962.2 226.3L963.6 239.3" stroke="#d9c9f0" stroke-width="4.2"/>
<path d="M966.3 227.0C967.0 229.2 968.9 240.7 970.4 240.0C971.9 239.3 974.3 226.1 975.2 222.8C976.1 219.5 975.8 220.6 975.9 220.1" stroke="#d9c9f0" stroke-width="4.2"/>
<path d="M995.8 209.8L997.2 215.3" stroke="#d9c9f0" stroke-width="4.2"/>
<path d="M992.4 223.5L995.8 239.3" stroke="#d9c9f0" stroke-width="4.2"/>
<path d="M1002.4 205.5L1005.3 239.0" stroke="#d9c9f0" stroke-width="4.2"/>
<path d="M1006.3 226.6C1007.1 225.5 1009.6 220.0 1011.0 220.0C1012.4 220.0 1015.2 224.1 1014.9 226.6C1014.6 229.1 1010.0 233.8 1009.0 235.2" stroke="#d9c9f0" stroke-width="4.2"/>
<path d="M1022.5 208.4L1025.4 236.1" stroke="#d9c9f0" stroke-width="4.2"/>
<path d="M1026.4 226.6C1027.5 225.3 1031.6 219.2 1033.0 219.0C1034.4 218.8 1035.6 223.2 1035.0 225.6C1034.4 228.0 1030.2 232.0 1029.2 233.3" stroke="#d9c9f0" stroke-width="4.2"/>
<path d="M1045.5 207.4C1045.3 209.8 1043.9 218.1 1044.5 221.8C1045.1 225.5 1047.2 228.7 1049.3 229.5C1051.4 230.3 1054.9 228.8 1057.0 226.6C1059.1 224.3 1060.5 214.9 1061.8 216.0C1063.1 217.1 1064.1 230.4 1064.6 233.3" stroke="#d9c9f0" stroke-width="4.2"/>
<path d="M803.3 284.7C803.9 284.6 806.8 283.1 806.7 284.0C806.6 284.9 803.4 289.0 802.7 290.0" stroke="#d9c9f0" stroke-width="4.2"/>
<path d="M805.3 290.0L805.3 311.3" stroke="#d9c9f0" stroke-width="4.2"/>
<path d="M796.7 301.3C797.6 301.1 799.9 300.9 802.0 300.0C804.1 299.1 808.1 296.7 809.3 296.0" stroke="#d9c9f0" stroke-width="4.2"/>
<path d="M859.3 295.3C858.8 294.5 857.1 290.7 856.0 290.7C854.9 290.7 853.5 293.2 852.7 295.3C851.9 297.4 851.1 300.9 851.3 303.3C851.5 305.8 852.1 308.7 854.0 310.0C855.9 311.3 861.2 311.1 862.7 311.3" stroke="#d9c9f0" stroke-width="4.2"/>
<path d="M878.6 293.8L884.3 306.5" stroke="#d9c9f0" stroke-width="4.2"/>
<path d="M881.1 291.9C882.2 292.0 885.7 291.4 887.5 292.5C889.3 293.6 890.6 296.6 892.0 298.3C893.4 300.0 894.4 302.3 895.8 302.7C897.2 303.1 899.0 302.9 900.3 300.8C901.6 298.7 902.4 290.4 903.5 290.0C904.6 289.6 905.3 296.4 906.7 298.3C908.1 300.2 910.0 301.4 911.8 301.4C913.6 301.4 916.1 300.7 917.5 298.3C918.9 295.9 919.6 288.7 920.0 286.8" stroke="#d9c9f0" stroke-width="4.2"/>
<path d="M919.7 286.6L921.6 296.8" stroke="#d9c9f0" stroke-width="4.2"/>
<path d="M928.0 287.2C928.6 288.5 930.5 294.9 931.8 294.9C933.1 294.9 934.4 288.8 935.6 287.2C936.8 285.6 937.9 284.0 938.8 285.3C939.6 286.6 939.4 295.0 940.7 294.9C942.0 294.8 945.0 285.8 946.5 284.7C948.0 283.6 949.1 287.1 949.7 288.5C950.3 289.9 949.3 292.5 950.3 293.0C951.2 293.5 954.0 293.9 955.4 291.7C956.8 289.5 958.2 280.1 958.6 279.6C959.0 279.1 958.0 286.4 958.0 288.5C958.0 290.6 958.5 291.7 958.6 292.3" stroke="#d9c9f0" stroke-width="4.2"/>
<path d="M993.8 283.5C992.8 283.9 989.1 284.5 987.8 286.1C986.5 287.7 985.6 291.4 986.0 293.0C986.4 294.6 988.6 295.8 990.3 295.6C992.0 295.5 995.1 293.8 996.4 292.1C997.7 290.4 997.8 286.4 998.1 285.2" stroke="#d9c9f0" stroke-width="4.2"/>
<path d="M998.1 285.2L1000.7 293.8" stroke="#d9c9f0" stroke-width="4.2"/>
<path d="M1003.3 273.2C1003.4 275.2 1003.8 280.6 1004.1 285.2C1004.4 289.8 1005.0 295.9 1005.0 300.7C1005.0 305.4 1004.7 311.1 1004.1 313.7C1003.5 316.3 1001.9 317.3 1001.5 316.2C1001.1 315.1 1000.8 310.1 1001.5 306.8C1002.2 303.5 1005.1 298.1 1005.8 296.4" stroke="#d9c9f0" stroke-width="4.2"/>
<path d="M1008.4 273.2C1009.1 275.8 1011.3 284.7 1012.7 288.7C1014.1 292.7 1016.3 295.9 1017.0 297.3" stroke="#d9c9f0" stroke-width="4.2"/>
<path d="M1004.1 281.8L1019.6 279.2" stroke="#d9c9f0" stroke-width="4.2"/>
<path d="M1017.9 293.8C1019.0 293.5 1023.1 293.5 1024.8 292.1C1026.5 290.7 1027.5 285.5 1028.2 285.2C1028.9 284.9 1028.9 289.5 1029.1 290.4" stroke="#d9c9f0" stroke-width="4.2"/>
<path d="M1036.8 283.5C1037.4 282.6 1038.6 279.0 1040.3 278.3C1042.0 277.6 1046.0 279.1 1047.2 279.2" stroke="#d9c9f0" stroke-width="4.2"/>
<path d="M1040.3 286.5L1042.0 292.1" stroke="#d9c9f0" stroke-width="5.5"/>
<path d="M826.4 352.8C826.7 354.6 827.9 358.8 828.0 363.9C828.1 368.9 827.3 379.9 827.2 383.1" stroke="#d9c9f0" stroke-width="4.2"/>
<path d="M815.2 363.9C815.7 364.3 816.3 366.2 818.4 366.3C820.5 366.4 825.6 365.4 828.0 364.7C830.4 364.0 831.9 362.7 832.7 362.3" stroke="#d9c9f0" stroke-width="4.2"/>
<path d="M835.1 352.0C835.4 354.2 836.3 361.4 836.7 365.5C837.1 369.6 837.4 374.8 837.5 376.7" stroke="#d9c9f0" stroke-width="4.2"/>
<path d="M838.3 369.5C839.2 368.4 842.3 363.5 843.9 363.1C845.5 362.7 846.8 365.2 847.9 367.1C849.0 369.0 849.1 373.0 850.3 374.3C851.5 375.6 853.5 376.0 855.1 375.1C856.7 374.2 858.8 371.4 859.8 368.7C860.8 366.0 861.5 361.2 861.4 359.1C861.3 357.0 859.9 355.7 859.0 356.0C858.1 356.3 856.3 358.1 855.9 360.7C855.5 363.3 856.6 370.0 856.7 371.9" stroke="#d9c9f0" stroke-width="4.2"/>
<path d="M888.0 360.2C887.3 360.0 885.3 358.1 883.6 359.0C881.9 359.9 879.0 363.2 877.8 365.3C876.6 367.4 875.9 370.5 876.6 371.7C877.4 372.9 880.1 373.6 882.3 372.4C884.5 371.2 888.4 366.7 890.0 364.7C891.6 362.7 891.6 360.9 891.9 360.2" stroke="#d9c9f0" stroke-width="4.2"/>
<path d="M890.0 346.2C890.3 347.7 891.4 351.9 891.9 355.1C892.4 358.3 892.6 363.0 893.1 365.3C893.6 367.6 893.9 368.7 895.0 369.2C896.1 369.7 898.3 369.6 899.5 368.5C900.7 367.4 901.6 365.0 902.1 362.8C902.6 360.6 902.8 354.6 902.7 355.1C902.6 355.6 901.1 363.8 901.4 366.0C901.7 368.2 904.1 368.1 904.6 368.5" stroke="#d9c9f0" stroke-width="4.2"/>
<path d="M913.5 341.7C913.7 342.2 914.4 342.7 914.8 344.9C915.2 347.1 915.7 351.4 916.1 355.1C916.5 358.8 917.2 365.3 917.4 367.3" stroke="#d9c9f0" stroke-width="4.2"/>
<path d="M931.2 356.2C931.9 356.9 933.7 359.7 935.1 360.2C936.5 360.7 938.3 360.7 939.9 359.4C941.5 358.1 943.9 353.4 944.7 352.2" stroke="#d9c9f0" stroke-width="4.2"/>
<path d="M944.7 352.2C944.8 354.3 945.2 360.2 945.5 365.0C945.8 369.8 946.6 376.8 946.3 380.9C946.0 385.0 945.4 388.2 943.9 389.7C942.4 391.2 939.2 391.0 937.5 389.7C935.8 388.4 933.8 384.2 933.5 381.7C933.2 379.2 934.2 376.2 935.9 374.5C937.6 372.8 942.6 371.8 943.9 371.3" stroke="#d9c9f0" stroke-width="4.2"/>
<path d="M987.4 342.7C987.9 343.3 989.7 342.4 990.2 346.5C990.7 350.6 990.2 364.1 990.2 367.6" stroke="#d9c9f0" stroke-width="4.2"/>
<path d="M1000.8 344.6L1009.4 337.9" stroke="#d9c9f0" stroke-width="4.2"/>
<path d="M1000.8 344.6C1000.9 346.7 1000.3 355.4 1001.7 357.0C1003.1 358.6 1007.3 353.7 1009.4 354.2C1011.5 354.7 1013.9 358.1 1014.2 360.0C1014.5 361.9 1013.4 364.4 1011.3 365.7C1009.2 367.0 1003.3 367.3 1001.7 367.6" stroke="#d9c9f0" stroke-width="4.2"/>
<path d="M1030.5 347.5C1029.7 347.5 1026.8 346.4 1025.7 347.5C1024.6 348.6 1023.0 352.3 1023.8 354.2C1024.6 356.1 1029.2 357.2 1030.5 359.0C1031.8 360.8 1032.2 363.3 1031.4 364.7C1030.6 366.1 1027.6 367.3 1025.7 367.6C1023.8 367.9 1021.0 366.8 1020.0 366.6" stroke="#d9c9f0" stroke-width="4.2"/>
<path d="M721.0 435.0C721.1 435.6 723.1 432.2 721.9 438.4C720.6 444.6 716.3 462.2 713.5 472.0C710.7 481.8 707.3 488.9 705.1 497.0C702.9 505.1 700.9 516.6 700.1 520.5" stroke="#d9c9f0" stroke-width="4.2"/>
<path d="M694.2 505.4C694.6 506.4 699.0 520.3 700.1 520.5C701.2 520.7 709.5 509.6 710.2 508.8" stroke="#d9c9f0" stroke-width="4.2"/>
<path d="M777.0 465.8C776.8 464.5 776.7 459.5 775.6 458.0C774.5 456.5 772.4 456.2 770.6 456.6C768.8 457.0 766.0 458.4 765.0 460.2C764.0 462.0 763.6 465.1 764.3 467.2C765.0 469.3 767.2 471.2 769.2 472.8C771.2 474.4 774.6 475.5 776.3 477.0C777.9 478.5 779.5 480.6 779.1 481.9C778.8 483.2 776.6 484.3 774.2 484.7C771.9 485.1 767.1 484.5 765.0 484.0C762.9 483.5 762.1 482.2 761.5 481.9" stroke="#d9c9f0" stroke-width="4.2"/>
<path d="M785.4 479.1C786.0 478.5 787.7 477.4 788.9 475.6C790.1 473.9 792.3 469.0 792.4 468.6C792.5 468.2 789.8 471.6 789.6 473.5C789.4 475.4 790.5 478.5 791.0 479.8C791.5 481.1 792.2 481.0 792.4 481.2" stroke="#d9c9f0" stroke-width="4.2"/>
<path d="M801.5 469.3L803.0 479.1" stroke="#d9c9f0" stroke-width="4.2"/>
<path d="M803.0 472.1C803.7 471.6 805.7 469.4 807.2 469.3C808.7 469.2 810.9 470.0 812.1 471.4C813.3 472.8 813.9 476.6 814.2 477.7" stroke="#d9c9f0" stroke-width="4.2"/>
<path d="M824.7 467.2C824.0 468.0 821.2 470.4 820.5 472.1C819.8 473.9 819.9 476.9 820.5 477.7C821.1 478.5 822.4 478.2 824.0 477.0C825.6 475.8 829.2 471.8 830.3 470.7" stroke="#d9c9f0" stroke-width="4.2"/>
<path d="M828.2 446.1C828.6 448.1 829.5 453.7 830.3 458.0C831.1 462.3 832.0 468.6 833.1 472.1C834.2 475.6 836.1 477.9 836.7 479.1" stroke="#d9c9f0" stroke-width="4.2"/>
<path d="M878.1 476.8C878.0 474.3 877.6 466.0 877.3 461.9C877.0 457.8 875.5 452.1 876.4 452.3C877.3 452.5 880.0 459.2 882.5 462.8C885.0 466.4 890.0 475.1 891.3 474.2C892.6 473.3 890.2 461.6 890.4 457.5C890.5 453.4 891.9 450.9 892.2 449.6" stroke="#d9c9f0" stroke-width="4.2"/>
<path d="M897.4 461.9C897.0 462.9 894.6 466.3 894.8 468.1C894.9 469.9 897.1 472.5 898.3 472.5C899.5 472.5 901.5 470.0 901.8 468.1C902.1 466.2 900.4 462.3 900.1 461.1" stroke="#d9c9f0" stroke-width="4.2"/>
<path d="M908.8 443.5C909.2 445.8 910.9 452.2 911.5 457.5C912.1 462.8 912.2 472.2 912.4 475.1" stroke="#d9c9f0" stroke-width="4.2"/>
<path d="M909.7 460.2C911.1 459.7 914.8 457.9 918.0 457.1C921.2 456.3 927.1 455.6 928.9 455.3" stroke="#d9c9f0" stroke-width="4.2"/>
<path d="M927.1 446.2L929.8 450.7" stroke="#d9c9f0" stroke-width="4.2"/>
<path d="M928.9 456.2L928.5 470.7" stroke="#d9c9f0" stroke-width="4.2"/>
<path d="M937.1 440.7C937.2 443.3 937.5 450.6 937.5 456.2C937.5 461.8 937.7 470.1 937.4 474.4C937.1 478.7 936.6 479.5 935.5 482.0C934.4 484.5 932.3 488.2 931.0 489.5C929.7 490.8 928.4 490.9 927.8 490.0C927.2 489.1 926.9 486.2 927.5 484.0C928.1 481.8 929.9 478.7 931.5 476.5C933.1 474.3 936.3 471.9 937.3 471.0" stroke="#d9c9f0" stroke-width="4.2"/>
<path d="M955.4 443.7L958.6 448.2" stroke="#d9c9f0" stroke-width="4.2"/>
<path d="M949.7 454.0C950.0 454.9 951.4 456.1 951.6 459.1C951.8 462.1 951.1 469.7 951.0 471.8" stroke="#d9c9f0" stroke-width="4.2"/>
<path d="M965.6 454.0C965.2 454.4 963.6 454.9 963.1 456.5C962.6 458.1 962.4 461.3 962.4 463.5C962.4 465.7 962.5 468.6 963.1 469.9C963.7 471.2 965.7 471.0 966.2 471.2" stroke="#d9c9f0" stroke-width="4.2"/>
<path d="M991.0 440.7C991.0 442.7 991.4 447.6 991.0 452.8C990.6 458.1 988.8 469.0 988.4 472.2" stroke="#d9c9f0" stroke-width="4.2"/>
<path d="M991.7 451.4C993.0 451.3 997.4 450.8 999.7 450.7C1002.1 450.6 1004.8 450.7 1005.8 450.7" stroke="#d9c9f0" stroke-width="4.2"/>
<path d="M1005.8 443.4L1007.1 447.4" stroke="#d9c9f0" stroke-width="4.2"/>
<path d="M1006.4 452.8L1004.4 468.2" stroke="#d9c9f0" stroke-width="4.2"/>
<path d="M1032.6 464.2L1032.6 450.7" stroke="#d9c9f0" stroke-width="4.2"/>
<path d="M1033.3 454.8C1034.2 454.4 1036.8 452.4 1038.6 452.1C1040.4 451.8 1043.2 451.6 1044.0 452.8C1044.8 454.0 1043.4 458.4 1043.3 459.5" stroke="#d9c9f0" stroke-width="4.2"/>
<path d="M779.1 514.9C778.0 514.6 774.3 513.0 772.4 513.3C770.5 513.6 768.5 514.8 767.5 516.6C766.5 518.4 765.9 522.2 766.6 524.1C767.3 526.0 769.5 527.9 771.6 528.2C773.7 528.5 777.4 527.0 779.1 525.7C780.8 524.5 781.7 522.1 781.6 520.7C781.5 519.3 779.8 518.1 778.3 517.4C776.8 516.7 773.4 516.7 772.4 516.6" stroke="#d9c9f0" stroke-width="4.2"/>
<path d="M784.9 506.6C785.2 506.9 786.5 506.6 786.6 508.3C786.7 510.0 785.7 513.1 785.7 516.6C785.7 520.1 786.5 524.9 786.6 529.0C786.8 533.1 787.4 538.3 786.6 541.5C785.8 544.7 783.4 547.3 781.6 548.1C779.8 548.9 777.0 547.9 775.8 546.5C774.5 545.1 773.5 542.1 774.1 539.8C774.7 537.4 777.3 534.0 779.1 532.4C780.9 530.8 783.9 530.3 784.9 529.9" stroke="#d9c9f0" stroke-width="4.2"/>
<path d="M817.9 501.2C818.6 503.0 821.3 508.9 822.1 512.2C822.9 515.5 823.0 518.0 822.7 521.2C822.4 524.4 820.7 529.8 820.3 531.5" stroke="#d9c9f0" stroke-width="4.2"/>
<path d="M814.8 516.4C815.2 516.0 815.1 514.6 817.3 514.0C819.5 513.4 825.5 513.1 828.2 512.8C830.9 512.5 832.4 511.3 833.6 512.2C834.8 513.1 835.2 516.0 835.5 518.2C835.8 520.4 835.5 524.3 835.5 525.5" stroke="#d9c9f0" stroke-width="4.2"/>
<path d="M838.5 501.8L840.3 507.3" stroke="#d9c9f0" stroke-width="4.2"/>
<path d="M843.9 514.0C844.3 514.2 845.6 513.8 846.4 515.2C847.2 516.6 847.7 522.5 848.8 522.5C849.9 522.5 851.5 517.0 853.0 515.2C854.5 513.4 856.6 511.2 857.9 511.5C859.2 511.8 860.1 515.9 860.9 517.0C861.7 518.1 861.8 518.6 862.7 518.2C863.6 517.8 865.3 514.4 866.4 514.6C867.5 514.8 868.0 518.3 869.2 519.2C870.4 520.1 872.4 519.6 873.6 519.8C874.8 520.0 875.1 521.8 876.4 520.3C877.7 518.8 880.9 512.8 881.5 510.8C882.1 508.8 881.1 507.9 880.3 508.1C879.4 508.3 877.0 510.0 876.4 512.0C875.8 514.0 876.4 518.7 876.4 520.0" stroke="#d9c9f0" stroke-width="4.2"/>
<path d="M889.3 510.8C889.5 510.2 889.6 507.2 890.4 507.5C891.1 507.8 893.0 510.4 893.8 512.5C894.5 514.6 894.7 519.0 894.9 520.3" stroke="#d9c9f0" stroke-width="4.2"/>
<path d="M894.9 511.4C895.6 510.8 897.5 508.9 899.3 508.1C901.1 507.4 904.5 507.1 905.5 506.9" stroke="#d9c9f0" stroke-width="4.2"/>
<path d="M661.3 538.6C664.2 537.9 669.7 537.8 673.7 538.1C677.7 538.4 681.5 539.0 685.2 540.5C688.9 542.0 692.8 544.8 695.7 547.2C698.6 549.6 701.1 552.5 702.4 554.9C703.7 557.3 703.9 558.9 703.4 561.6C702.9 564.3 701.6 568.1 699.5 571.1C697.4 574.1 694.2 577.4 691.0 579.8C687.8 582.2 684.1 584.4 680.4 585.5C676.7 586.6 672.6 587.0 668.9 586.5C665.2 586.0 661.3 584.7 658.4 582.6C655.5 580.5 653.1 577.2 651.7 574.0C650.3 570.8 649.8 567.3 649.8 563.5C649.8 559.7 650.6 554.5 651.7 551.0C652.8 547.5 654.9 544.5 656.5 542.4C658.1 540.3 658.4 539.3 661.3 538.6Z" stroke="#c8505e" stroke-width="3.3"/>
<path d="M659.4 542.4L665.1 541.5" stroke="#c8505e" stroke-width="3.3"/>
<path d="M667.0 541.5C667.3 542.6 667.1 546.3 668.9 548.2C670.6 550.1 675.8 551.6 677.5 553.0C679.2 554.4 679.7 555.5 679.4 556.8C679.1 558.1 678.1 559.6 675.6 560.6C673.1 561.6 667.5 561.5 664.1 562.5C660.8 563.5 657.2 564.8 655.5 566.4C653.8 568.0 653.8 570.2 653.6 572.1C653.5 574.0 654.4 576.8 654.6 577.8" stroke="#c8505e" stroke-width="3.3"/>
<path d="M676.6 560.6C677.7 561.2 681.4 563.3 683.3 564.4C685.2 565.5 686.4 566.7 688.1 567.3C689.9 567.9 692.8 567.7 693.8 567.8" stroke="#c8505e" stroke-width="3.3"/>
<path d="M603.6 177.2C604.1 177.1 603.1 176.8 608.7 175.8C614.3 174.8 650.9 168.4 660.0 167.2C669.1 165.9 691.4 164.2 700.0 163.3C708.6 162.4 741.2 158.9 746.1 158.6C751.0 158.3 748.4 158.7 748.8 160.0C749.2 161.3 749.7 168.8 750.2 172.0C750.7 175.2 753.5 188.4 754.2 192.5C754.9 196.6 756.9 210.4 757.0 212.8C757.1 215.2 757.2 216.0 755.6 216.9C754.0 217.8 746.3 221.1 740.7 222.3C735.1 223.5 708.1 227.6 700.0 229.0C691.9 230.4 669.1 234.7 660.0 236.0C650.9 237.3 614.5 241.8 609.4 242.5" stroke="#9a7424" stroke-width="1.3" stroke-dasharray="0.8 2.7" stroke-linecap="butt" opacity="0.55"/>
<path d="M603.6 177.2C603.7 180.5 604.3 204.0 604.5 210.0C604.7 216.0 605.7 234.8 605.8 237.5" stroke="#9a7424" stroke-width="1.3" stroke-dasharray="0.8 2.7" stroke-linecap="butt" opacity="0.55"/>
<path d="M603.6 234.6L605.8 237.5" stroke="#9a7424" stroke-width="1.3" stroke-dasharray="0.8 2.7" stroke-linecap="butt" opacity="0.55"/>
<path d="M644.6 190.8L647.1 213.2" stroke="#9a7424" stroke-width="1.3" stroke-dasharray="0.8 2.7" stroke-linecap="butt" opacity="0.55"/>
<path d="M647.8 206.8C649.8 204.0 657.6 191.3 659.9 190.2C662.2 189.1 660.9 196.1 661.5 200.0C662.1 203.9 663.3 211.5 663.7 213.8" stroke="#9a7424" stroke-width="1.3" stroke-dasharray="0.8 2.7" stroke-linecap="butt" opacity="0.55"/>
<path d="M681.0 185.7C679.9 186.9 675.8 189.7 674.5 192.8C673.2 195.9 672.6 201.3 673.3 204.2C673.9 207.1 676.5 209.4 678.4 210.0C680.3 210.6 683.1 209.8 684.7 208.0C686.3 206.2 687.8 202.1 688.0 199.0C688.2 195.9 687.2 191.8 686.0 189.6C684.8 187.4 681.8 186.3 681.0 185.7" stroke="#9a7424" stroke-width="1.3" stroke-dasharray="0.8 2.7" stroke-linecap="butt" opacity="0.55"/>
<path d="M676.5 191.5C678.4 194.4 686.0 205.0 688.0 208.7C690.0 212.4 689.4 212.6 688.6 213.8C687.9 215.0 684.4 215.4 683.5 215.7" stroke="#9a7424" stroke-width="1.3" stroke-dasharray="0.8 2.7" stroke-linecap="butt" opacity="0.55"/>
<ellipse cx="176.5" cy="213.5" rx="2.6" ry="3.6" transform="rotate(-20 176.5 213.5)" stroke="#d9c9f0" stroke-width="4.8"/>
<ellipse cx="335" cy="224" rx="3.5" ry="4" transform="rotate(0 335 224)" stroke="#78b6ee" stroke-width="3.8"/>
<ellipse cx="347.5" cy="224" rx="3.5" ry="3.8" transform="rotate(0 347.5 224)" stroke="#78b6ee" stroke-width="3.8"/>
<ellipse cx="964.7" cy="72.8" rx="3.6" ry="3.8" transform="rotate(0 964.7 72.8)" stroke="#d9c9f0" stroke-width="4.2"/>
<ellipse cx="652.7" cy="398.1" rx="2.4" ry="3.6" transform="rotate(0 652.7 398.1)" stroke="#ee5aa8" stroke-width="4.5"/>
<ellipse cx="982.1" cy="231.7" rx="2.8" ry="4.3" transform="rotate(-10 982.1 231.7)" stroke="#d9c9f0" stroke-width="4.2"/>
<ellipse cx="818.7" cy="303.3" rx="3.3" ry="7.2" transform="rotate(0 818.7 303.3)" stroke="#d9c9f0" stroke-width="4.2"/>
<ellipse cx="870.3" cy="300.2" rx="3.3" ry="4.8" transform="rotate(0 870.3 300.2)" stroke="#d9c9f0" stroke-width="4.2"/>
<ellipse cx="925.6" cy="361" rx="3.8" ry="4.8" transform="rotate(20 925.6 361)" stroke="#d9c9f0" stroke-width="4.2"/>
<ellipse cx="975.8" cy="461" rx="3" ry="5.8" transform="rotate(0 975.8 461)" stroke="#d9c9f0" stroke-width="4.2"/>
<ellipse cx="1019.2" cy="458.8" rx="3.5" ry="5" transform="rotate(0 1019.2 458.8)" stroke="#d9c9f0" stroke-width="4.2"/>
</g>
</svg>
</body></html>
